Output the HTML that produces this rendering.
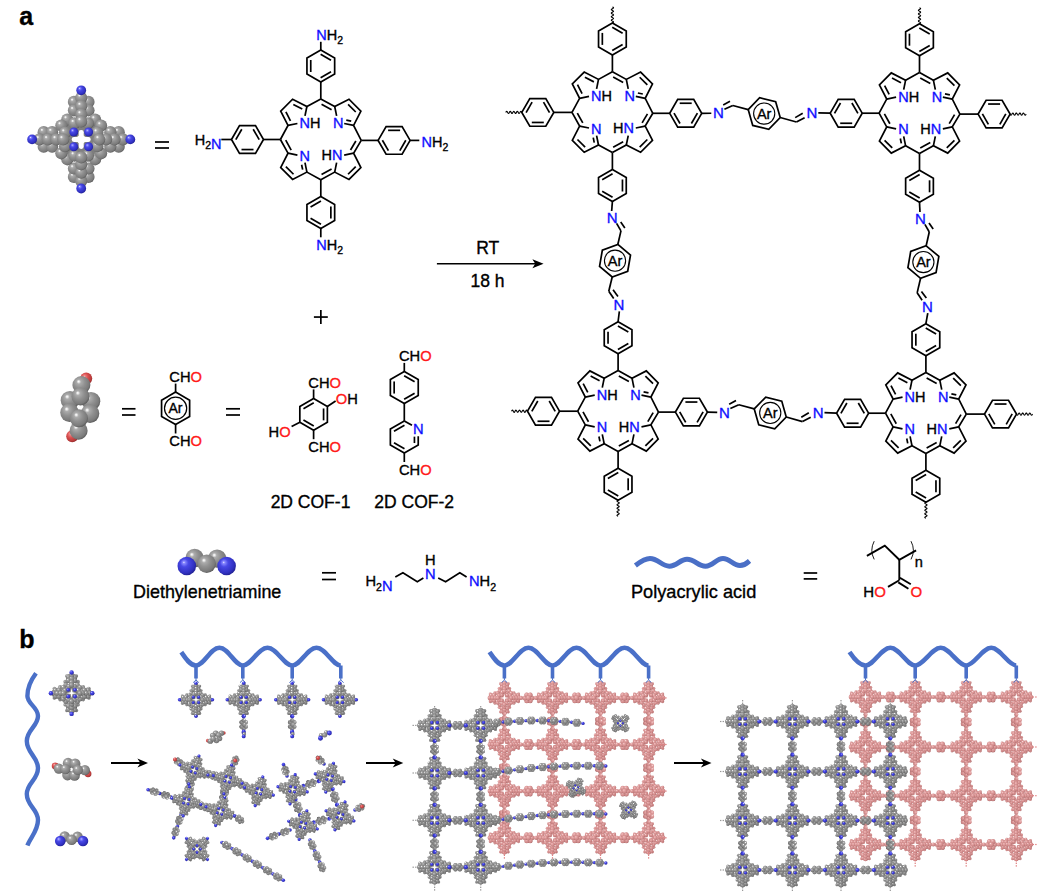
<!DOCTYPE html>
<html><head><meta charset="utf-8"><style>
html,body{margin:0;padding:0;background:#fff;width:1038px;height:892px;overflow:hidden}
svg{display:block}
text{font-family:"Liberation Sans",sans-serif}
</style></head><body>
<svg width="1038" height="892" viewBox="0 0 1038 892">
<defs><g id="nodeG"><circle cx="0" cy="0" r="6.03" fill="#858585"/><circle cx="0" cy="-12.4" r="4.69" fill="#858585"/><circle cx="12.4" cy="-0" r="4.69" fill="#858585"/><circle cx="0" cy="12.4" r="4.69" fill="#858585"/><circle cx="-12.4" cy="0" r="4.69" fill="#858585"/><circle cx="5.47" cy="-9.89" r="1.54" fill="url(#gC)"/><circle cx="9.89" cy="-5.47" r="1.54" fill="url(#gC)"/><circle cx="-5.47" cy="-9.89" r="1.54" fill="url(#gC)"/><circle cx="-9.89" cy="-5.47" r="1.54" fill="url(#gC)"/><circle cx="5.47" cy="9.89" r="1.54" fill="url(#gC)"/><circle cx="9.89" cy="5.47" r="1.54" fill="url(#gC)"/><circle cx="-5.47" cy="9.89" r="1.54" fill="url(#gC)"/><circle cx="-9.89" cy="5.47" r="1.54" fill="url(#gC)"/><circle cx="4.06" cy="-14.74" r="1.54" fill="url(#gC)"/><circle cx="4.06" cy="-10.05" r="1.54" fill="url(#gC)"/><circle cx="-4.06" cy="-10.05" r="1.54" fill="url(#gC)"/><circle cx="-4.06" cy="-14.74" r="1.54" fill="url(#gC)"/><circle cx="14.74" cy="4.06" r="1.54" fill="url(#gC)"/><circle cx="10.05" cy="4.06" r="1.54" fill="url(#gC)"/><circle cx="10.05" cy="-4.06" r="1.54" fill="url(#gC)"/><circle cx="14.74" cy="-4.06" r="1.54" fill="url(#gC)"/><circle cx="-4.06" cy="14.74" r="1.54" fill="url(#gC)"/><circle cx="-4.06" cy="10.05" r="1.54" fill="url(#gC)"/><circle cx="4.06" cy="10.05" r="1.54" fill="url(#gC)"/><circle cx="4.06" cy="14.74" r="1.54" fill="url(#gC)"/><circle cx="-14.74" cy="-4.06" r="1.54" fill="url(#gC)"/><circle cx="-10.05" cy="-4.06" r="1.54" fill="url(#gC)"/><circle cx="-10.05" cy="4.06" r="1.54" fill="url(#gC)"/><circle cx="-14.74" cy="4.06" r="1.54" fill="url(#gC)"/><circle cx="2.61" cy="13.9" r="2.14" fill="url(#gC)"/><circle cx="-13.9" cy="2.61" r="2.14" fill="url(#gC)"/><circle cx="2.61" cy="-13.9" r="2.14" fill="url(#gC)"/><circle cx="-2.61" cy="-13.9" r="2.14" fill="url(#gC)"/><circle cx="13.9" cy="2.61" r="2.14" fill="url(#gC)"/><circle cx="13.9" cy="-2.61" r="2.14" fill="url(#gC)"/><circle cx="-2.61" cy="13.9" r="2.14" fill="url(#gC)"/><circle cx="-13.9" cy="-2.61" r="2.14" fill="url(#gC)"/><circle cx="0" cy="15.41" r="2.14" fill="url(#gC)"/><circle cx="-15.41" cy="0" r="2.14" fill="url(#gC)"/><circle cx="0" cy="-15.41" r="2.14" fill="url(#gC)"/><circle cx="15.41" cy="-0" r="2.14" fill="url(#gC)"/><circle cx="-10.89" cy="2.61" r="2.14" fill="url(#gC)"/><circle cx="2.61" cy="-10.89" r="2.14" fill="url(#gC)"/><circle cx="-2.61" cy="-10.89" r="2.14" fill="url(#gC)"/><circle cx="10.89" cy="2.61" r="2.14" fill="url(#gC)"/><circle cx="10.89" cy="-2.61" r="2.14" fill="url(#gC)"/><circle cx="-2.61" cy="10.89" r="2.14" fill="url(#gC)"/><circle cx="2.61" cy="10.89" r="2.14" fill="url(#gC)"/><circle cx="-10.89" cy="-2.61" r="2.14" fill="url(#gC)"/><circle cx="0" cy="12.4" r="2.14" fill="url(#gC)"/><circle cx="-12.4" cy="0" r="2.14" fill="url(#gC)"/><circle cx="0" cy="-12.4" r="2.14" fill="url(#gC)"/><circle cx="12.4" cy="-0" r="2.14" fill="url(#gC)"/><circle cx="4.94" cy="-7.08" r="2.14" fill="url(#gC)"/><circle cx="7.08" cy="-4.94" r="2.14" fill="url(#gC)"/><circle cx="-4.94" cy="-7.08" r="2.14" fill="url(#gC)"/><circle cx="-7.08" cy="-4.94" r="2.14" fill="url(#gC)"/><circle cx="4.94" cy="7.08" r="2.14" fill="url(#gC)"/><circle cx="7.08" cy="4.94" r="2.14" fill="url(#gC)"/><circle cx="-4.94" cy="7.08" r="2.14" fill="url(#gC)"/><circle cx="-7.08" cy="4.94" r="2.14" fill="url(#gC)"/><circle cx="0" cy="9.38" r="2.14" fill="url(#gC)"/><circle cx="-9.38" cy="0" r="2.14" fill="url(#gC)"/><circle cx="0" cy="-9.38" r="2.14" fill="url(#gC)"/><circle cx="9.38" cy="-0" r="2.14" fill="url(#gC)"/><circle cx="2.41" cy="-5.75" r="2.14" fill="url(#gC)"/><circle cx="5.75" cy="-2.41" r="2.14" fill="url(#gC)"/><circle cx="-2.41" cy="-5.75" r="2.14" fill="url(#gC)"/><circle cx="-5.75" cy="-2.41" r="2.14" fill="url(#gC)"/><circle cx="2.41" cy="5.75" r="2.14" fill="url(#gC)"/><circle cx="5.75" cy="2.41" r="2.14" fill="url(#gC)"/><circle cx="-2.41" cy="5.75" r="2.14" fill="url(#gC)"/><circle cx="-5.75" cy="2.41" r="2.14" fill="url(#gC)"/><circle cx="0" cy="6.99" r="2.14" fill="url(#gC)"/><circle cx="-6.99" cy="0" r="2.14" fill="url(#gC)"/><circle cx="0" cy="-6.99" r="2.14" fill="url(#gC)"/><circle cx="6.99" cy="-0" r="2.14" fill="url(#gC)"/><polygon points="0,-4.2 0.78,-0.78 4.2,0 0.78,0.78 0,4.2 -0.78,0.78 -4.2,0 -0.78,-0.78" fill="#fff"/><circle cx="2.85" cy="-2.85" r="1.68" fill="url(#gN)"/><circle cx="-2.85" cy="-2.85" r="1.68" fill="url(#gN)"/><circle cx="2.85" cy="2.85" r="1.68" fill="url(#gN)"/><circle cx="-2.85" cy="2.85" r="1.68" fill="url(#gN)"/></g><g id="nodeP"><circle cx="0" cy="0" r="6.03" fill="#d49090"/><circle cx="0" cy="-12.4" r="4.69" fill="#d49090"/><circle cx="12.4" cy="-0" r="4.69" fill="#d49090"/><circle cx="0" cy="12.4" r="4.69" fill="#d49090"/><circle cx="-12.4" cy="0" r="4.69" fill="#d49090"/><circle cx="5.47" cy="-9.89" r="1.54" fill="url(#gP)"/><circle cx="9.89" cy="-5.47" r="1.54" fill="url(#gP)"/><circle cx="-5.47" cy="-9.89" r="1.54" fill="url(#gP)"/><circle cx="-9.89" cy="-5.47" r="1.54" fill="url(#gP)"/><circle cx="5.47" cy="9.89" r="1.54" fill="url(#gP)"/><circle cx="9.89" cy="5.47" r="1.54" fill="url(#gP)"/><circle cx="-5.47" cy="9.89" r="1.54" fill="url(#gP)"/><circle cx="-9.89" cy="5.47" r="1.54" fill="url(#gP)"/><circle cx="4.06" cy="-14.74" r="1.54" fill="url(#gP)"/><circle cx="4.06" cy="-10.05" r="1.54" fill="url(#gP)"/><circle cx="-4.06" cy="-10.05" r="1.54" fill="url(#gP)"/><circle cx="-4.06" cy="-14.74" r="1.54" fill="url(#gP)"/><circle cx="14.74" cy="4.06" r="1.54" fill="url(#gP)"/><circle cx="10.05" cy="4.06" r="1.54" fill="url(#gP)"/><circle cx="10.05" cy="-4.06" r="1.54" fill="url(#gP)"/><circle cx="14.74" cy="-4.06" r="1.54" fill="url(#gP)"/><circle cx="-4.06" cy="14.74" r="1.54" fill="url(#gP)"/><circle cx="-4.06" cy="10.05" r="1.54" fill="url(#gP)"/><circle cx="4.06" cy="10.05" r="1.54" fill="url(#gP)"/><circle cx="4.06" cy="14.74" r="1.54" fill="url(#gP)"/><circle cx="-14.74" cy="-4.06" r="1.54" fill="url(#gP)"/><circle cx="-10.05" cy="-4.06" r="1.54" fill="url(#gP)"/><circle cx="-10.05" cy="4.06" r="1.54" fill="url(#gP)"/><circle cx="-14.74" cy="4.06" r="1.54" fill="url(#gP)"/><circle cx="2.61" cy="13.9" r="2.14" fill="url(#gP)"/><circle cx="-13.9" cy="2.61" r="2.14" fill="url(#gP)"/><circle cx="2.61" cy="-13.9" r="2.14" fill="url(#gP)"/><circle cx="-2.61" cy="-13.9" r="2.14" fill="url(#gP)"/><circle cx="13.9" cy="2.61" r="2.14" fill="url(#gP)"/><circle cx="13.9" cy="-2.61" r="2.14" fill="url(#gP)"/><circle cx="-2.61" cy="13.9" r="2.14" fill="url(#gP)"/><circle cx="-13.9" cy="-2.61" r="2.14" fill="url(#gP)"/><circle cx="0" cy="15.41" r="2.14" fill="url(#gP)"/><circle cx="-15.41" cy="0" r="2.14" fill="url(#gP)"/><circle cx="0" cy="-15.41" r="2.14" fill="url(#gP)"/><circle cx="15.41" cy="-0" r="2.14" fill="url(#gP)"/><circle cx="-10.89" cy="2.61" r="2.14" fill="url(#gP)"/><circle cx="2.61" cy="-10.89" r="2.14" fill="url(#gP)"/><circle cx="-2.61" cy="-10.89" r="2.14" fill="url(#gP)"/><circle cx="10.89" cy="2.61" r="2.14" fill="url(#gP)"/><circle cx="10.89" cy="-2.61" r="2.14" fill="url(#gP)"/><circle cx="-2.61" cy="10.89" r="2.14" fill="url(#gP)"/><circle cx="2.61" cy="10.89" r="2.14" fill="url(#gP)"/><circle cx="-10.89" cy="-2.61" r="2.14" fill="url(#gP)"/><circle cx="0" cy="12.4" r="2.14" fill="url(#gP)"/><circle cx="-12.4" cy="0" r="2.14" fill="url(#gP)"/><circle cx="0" cy="-12.4" r="2.14" fill="url(#gP)"/><circle cx="12.4" cy="-0" r="2.14" fill="url(#gP)"/><circle cx="4.94" cy="-7.08" r="2.14" fill="url(#gP)"/><circle cx="7.08" cy="-4.94" r="2.14" fill="url(#gP)"/><circle cx="-4.94" cy="-7.08" r="2.14" fill="url(#gP)"/><circle cx="-7.08" cy="-4.94" r="2.14" fill="url(#gP)"/><circle cx="4.94" cy="7.08" r="2.14" fill="url(#gP)"/><circle cx="7.08" cy="4.94" r="2.14" fill="url(#gP)"/><circle cx="-4.94" cy="7.08" r="2.14" fill="url(#gP)"/><circle cx="-7.08" cy="4.94" r="2.14" fill="url(#gP)"/><circle cx="0" cy="9.38" r="2.14" fill="url(#gP)"/><circle cx="-9.38" cy="0" r="2.14" fill="url(#gP)"/><circle cx="0" cy="-9.38" r="2.14" fill="url(#gP)"/><circle cx="9.38" cy="-0" r="2.14" fill="url(#gP)"/><circle cx="2.41" cy="-5.75" r="2.14" fill="url(#gP)"/><circle cx="5.75" cy="-2.41" r="2.14" fill="url(#gP)"/><circle cx="-2.41" cy="-5.75" r="2.14" fill="url(#gP)"/><circle cx="-5.75" cy="-2.41" r="2.14" fill="url(#gP)"/><circle cx="2.41" cy="5.75" r="2.14" fill="url(#gP)"/><circle cx="5.75" cy="2.41" r="2.14" fill="url(#gP)"/><circle cx="-2.41" cy="5.75" r="2.14" fill="url(#gP)"/><circle cx="-5.75" cy="2.41" r="2.14" fill="url(#gP)"/><circle cx="0" cy="6.99" r="2.14" fill="url(#gP)"/><circle cx="-6.99" cy="0" r="2.14" fill="url(#gP)"/><circle cx="0" cy="-6.99" r="2.14" fill="url(#gP)"/><circle cx="6.99" cy="-0" r="2.14" fill="url(#gP)"/><polygon points="0,-4.2 0.78,-0.78 4.2,0 0.78,0.78 0,4.2 -0.78,0.78 -4.2,0 -0.78,-0.78" fill="#fff"/><circle cx="2.85" cy="-2.85" r="1.68" fill="url(#gP)"/><circle cx="-2.85" cy="-2.85" r="1.68" fill="url(#gP)"/><circle cx="2.85" cy="2.85" r="1.68" fill="url(#gP)"/><circle cx="-2.85" cy="2.85" r="1.68" fill="url(#gP)"/></g><g id="iconG"><circle cx="0" cy="0" r="6.03" fill="#858585"/><circle cx="0" cy="-12.4" r="4.69" fill="#858585"/><circle cx="12.4" cy="-0" r="4.69" fill="#858585"/><circle cx="0" cy="12.4" r="4.69" fill="#858585"/><circle cx="-12.4" cy="0" r="4.69" fill="#858585"/><circle cx="5.47" cy="-9.89" r="1.54" fill="url(#gC)"/><circle cx="9.89" cy="-5.47" r="1.54" fill="url(#gC)"/><circle cx="-5.47" cy="-9.89" r="1.54" fill="url(#gC)"/><circle cx="-9.89" cy="-5.47" r="1.54" fill="url(#gC)"/><circle cx="5.47" cy="9.89" r="1.54" fill="url(#gC)"/><circle cx="9.89" cy="5.47" r="1.54" fill="url(#gC)"/><circle cx="-5.47" cy="9.89" r="1.54" fill="url(#gC)"/><circle cx="-9.89" cy="5.47" r="1.54" fill="url(#gC)"/><circle cx="4.06" cy="-14.74" r="1.54" fill="url(#gC)"/><circle cx="4.06" cy="-10.05" r="1.54" fill="url(#gC)"/><circle cx="-4.06" cy="-10.05" r="1.54" fill="url(#gC)"/><circle cx="-4.06" cy="-14.74" r="1.54" fill="url(#gC)"/><circle cx="14.74" cy="4.06" r="1.54" fill="url(#gC)"/><circle cx="10.05" cy="4.06" r="1.54" fill="url(#gC)"/><circle cx="10.05" cy="-4.06" r="1.54" fill="url(#gC)"/><circle cx="14.74" cy="-4.06" r="1.54" fill="url(#gC)"/><circle cx="-4.06" cy="14.74" r="1.54" fill="url(#gC)"/><circle cx="-4.06" cy="10.05" r="1.54" fill="url(#gC)"/><circle cx="4.06" cy="10.05" r="1.54" fill="url(#gC)"/><circle cx="4.06" cy="14.74" r="1.54" fill="url(#gC)"/><circle cx="-14.74" cy="-4.06" r="1.54" fill="url(#gC)"/><circle cx="-10.05" cy="-4.06" r="1.54" fill="url(#gC)"/><circle cx="-10.05" cy="4.06" r="1.54" fill="url(#gC)"/><circle cx="-14.74" cy="4.06" r="1.54" fill="url(#gC)"/><circle cx="2.61" cy="13.9" r="2.14" fill="url(#gC)"/><circle cx="-13.9" cy="2.61" r="2.14" fill="url(#gC)"/><circle cx="2.61" cy="-13.9" r="2.14" fill="url(#gC)"/><circle cx="-2.61" cy="-13.9" r="2.14" fill="url(#gC)"/><circle cx="13.9" cy="2.61" r="2.14" fill="url(#gC)"/><circle cx="13.9" cy="-2.61" r="2.14" fill="url(#gC)"/><circle cx="-2.61" cy="13.9" r="2.14" fill="url(#gC)"/><circle cx="-13.9" cy="-2.61" r="2.14" fill="url(#gC)"/><circle cx="0" cy="15.41" r="2.14" fill="url(#gC)"/><circle cx="-15.41" cy="0" r="2.14" fill="url(#gC)"/><circle cx="0" cy="-15.41" r="2.14" fill="url(#gC)"/><circle cx="15.41" cy="-0" r="2.14" fill="url(#gC)"/><circle cx="-10.89" cy="2.61" r="2.14" fill="url(#gC)"/><circle cx="2.61" cy="-10.89" r="2.14" fill="url(#gC)"/><circle cx="-2.61" cy="-10.89" r="2.14" fill="url(#gC)"/><circle cx="10.89" cy="2.61" r="2.14" fill="url(#gC)"/><circle cx="10.89" cy="-2.61" r="2.14" fill="url(#gC)"/><circle cx="-2.61" cy="10.89" r="2.14" fill="url(#gC)"/><circle cx="2.61" cy="10.89" r="2.14" fill="url(#gC)"/><circle cx="-10.89" cy="-2.61" r="2.14" fill="url(#gC)"/><circle cx="0" cy="12.4" r="2.14" fill="url(#gC)"/><circle cx="-12.4" cy="0" r="2.14" fill="url(#gC)"/><circle cx="0" cy="-12.4" r="2.14" fill="url(#gC)"/><circle cx="12.4" cy="-0" r="2.14" fill="url(#gC)"/><circle cx="4.94" cy="-7.08" r="2.14" fill="url(#gC)"/><circle cx="7.08" cy="-4.94" r="2.14" fill="url(#gC)"/><circle cx="-4.94" cy="-7.08" r="2.14" fill="url(#gC)"/><circle cx="-7.08" cy="-4.94" r="2.14" fill="url(#gC)"/><circle cx="4.94" cy="7.08" r="2.14" fill="url(#gC)"/><circle cx="7.08" cy="4.94" r="2.14" fill="url(#gC)"/><circle cx="-4.94" cy="7.08" r="2.14" fill="url(#gC)"/><circle cx="-7.08" cy="4.94" r="2.14" fill="url(#gC)"/><circle cx="0" cy="9.38" r="2.14" fill="url(#gC)"/><circle cx="-9.38" cy="0" r="2.14" fill="url(#gC)"/><circle cx="0" cy="-9.38" r="2.14" fill="url(#gC)"/><circle cx="9.38" cy="-0" r="2.14" fill="url(#gC)"/><circle cx="2.41" cy="-5.75" r="2.14" fill="url(#gC)"/><circle cx="5.75" cy="-2.41" r="2.14" fill="url(#gC)"/><circle cx="-2.41" cy="-5.75" r="2.14" fill="url(#gC)"/><circle cx="-5.75" cy="-2.41" r="2.14" fill="url(#gC)"/><circle cx="2.41" cy="5.75" r="2.14" fill="url(#gC)"/><circle cx="5.75" cy="2.41" r="2.14" fill="url(#gC)"/><circle cx="-2.41" cy="5.75" r="2.14" fill="url(#gC)"/><circle cx="-5.75" cy="2.41" r="2.14" fill="url(#gC)"/><circle cx="0" cy="6.99" r="2.14" fill="url(#gC)"/><circle cx="-6.99" cy="0" r="2.14" fill="url(#gC)"/><circle cx="0" cy="-6.99" r="2.14" fill="url(#gC)"/><circle cx="6.99" cy="-0" r="2.14" fill="url(#gC)"/><polygon points="0,-4.2 0.78,-0.78 4.2,0 0.78,0.78 0,4.2 -0.78,0.78 -4.2,0 -0.78,-0.78" fill="#fff"/><circle cx="2.85" cy="-2.85" r="1.68" fill="url(#gN)"/><circle cx="-2.85" cy="-2.85" r="1.68" fill="url(#gN)"/><circle cx="2.85" cy="2.85" r="1.68" fill="url(#gN)"/><circle cx="-2.85" cy="2.85" r="1.68" fill="url(#gN)"/><circle cx="0" cy="-17.69" r="1.88" fill="url(#gN)"/><circle cx="17.69" cy="-0" r="1.88" fill="url(#gN)"/><circle cx="0" cy="17.69" r="1.88" fill="url(#gN)"/><circle cx="-17.69" cy="0" r="1.88" fill="url(#gN)"/></g><g id="linkG"><circle cx="2.58" cy="2.77" r="1.4" fill="url(#gC)"/><circle cx="-2.58" cy="2.77" r="1.4" fill="url(#gC)"/><circle cx="-2.58" cy="-2.77" r="1.4" fill="url(#gC)"/><circle cx="2.58" cy="-2.77" r="1.4" fill="url(#gC)"/><circle cx="4.16" cy="0" r="2.2" fill="url(#gC)"/><circle cx="2.08" cy="2.08" r="2.2" fill="url(#gC)"/><circle cx="-2.08" cy="2.08" r="2.2" fill="url(#gC)"/><circle cx="-4.16" cy="0" r="2.2" fill="url(#gC)"/><circle cx="-2.08" cy="-2.08" r="2.2" fill="url(#gC)"/><circle cx="2.08" cy="-2.08" r="2.2" fill="url(#gC)"/><circle cx="0" cy="0" r="2.2" fill="url(#gC)"/><circle cx="-8.2" cy="0" r="2.1" fill="url(#gN)"/><circle cx="8.2" cy="0" r="2.1" fill="url(#gN)"/></g><g id="ringG"><circle cx="3.75" cy="0" r="2.1" fill="url(#gC)"/><circle cx="1.88" cy="1.95" r="2.1" fill="url(#gC)"/><circle cx="-1.87" cy="1.95" r="2.1" fill="url(#gC)"/><circle cx="-3.75" cy="0" r="2.1" fill="url(#gC)"/><circle cx="-1.88" cy="-1.95" r="2.1" fill="url(#gC)"/><circle cx="1.88" cy="-1.95" r="2.1" fill="url(#gC)"/><circle cx="0" cy="0" r="2.1" fill="url(#gC)"/></g><g id="linkP"><circle cx="2.2" cy="3.64" r="1.4" fill="url(#gP)"/><circle cx="-2.2" cy="3.64" r="1.4" fill="url(#gP)"/><circle cx="-2.2" cy="-3.64" r="1.4" fill="url(#gP)"/><circle cx="2.2" cy="-3.64" r="1.4" fill="url(#gP)"/><circle cx="3.4" cy="0" r="2.5" fill="url(#gP)"/><circle cx="1.7" cy="2.94" r="2.5" fill="url(#gP)"/><circle cx="-1.7" cy="2.94" r="2.5" fill="url(#gP)"/><circle cx="-3.4" cy="0" r="2.5" fill="url(#gP)"/><circle cx="-1.7" cy="-2.94" r="2.5" fill="url(#gP)"/><circle cx="1.7" cy="-2.94" r="2.5" fill="url(#gP)"/><circle cx="0" cy="0" r="2.5" fill="url(#gP)"/><circle cx="-7.4" cy="0" r="2.1" fill="url(#gP)"/><circle cx="7.4" cy="0" r="2.1" fill="url(#gP)"/></g></defs><defs>
<radialGradient id="gC" cx="0.42" cy="0.4" r="0.62" fx="0.34" fy="0.3">
<stop offset="0" stop-color="#ffffff"/><stop offset="0.07" stop-color="#ececec"/><stop offset="0.2" stop-color="#acacac"/><stop offset="0.5" stop-color="#919191"/><stop offset="0.85" stop-color="#7a7a7a"/><stop offset="1" stop-color="#5a5a5a"/></radialGradient>
<radialGradient id="gN" cx="0.42" cy="0.4" r="0.62" fx="0.34" fy="0.3">
<stop offset="0" stop-color="#e8e8ff"/><stop offset="0.1" stop-color="#8a8aff"/><stop offset="0.35" stop-color="#4848e6"/><stop offset="0.8" stop-color="#3030c0"/><stop offset="1" stop-color="#202090"/></radialGradient>
<radialGradient id="gO" cx="0.42" cy="0.4" r="0.62" fx="0.34" fy="0.3">
<stop offset="0" stop-color="#ffe0e0"/><stop offset="0.13" stop-color="#f08080"/><stop offset="0.45" stop-color="#d85050"/><stop offset="0.85" stop-color="#b83a3a"/><stop offset="1" stop-color="#902828"/></radialGradient>
<radialGradient id="gP" cx="0.42" cy="0.4" r="0.62" fx="0.34" fy="0.3">
<stop offset="0" stop-color="#fbe4e4"/><stop offset="0.13" stop-color="#ecb4b4"/><stop offset="0.45" stop-color="#dc9999"/><stop offset="0.85" stop-color="#c88282"/><stop offset="1" stop-color="#a86666"/></radialGradient>
</defs>
<rect width="1038" height="892" fill="#fff"/>
<text x="19.2" y="24.9" font-family="Liberation Sans" font-size="25" text-anchor="start" font-weight="bold"><tspan fill="#000" stroke="#000" stroke-width="0.35">a</tspan></text>
<text x="19.2" y="648" font-family="Liberation Sans" font-size="25" text-anchor="start" font-weight="bold"><tspan fill="#000" stroke="#000" stroke-width="0.35">b</tspan></text>
<polyline points="320.8,98.9 334.7,106.5 349,99.2 360.9,111.1 353.6,125.4 361.2,140.4" fill="none" stroke="#000" stroke-width="1.7" stroke-linejoin="miter"/>
<line x1="334.7" y1="106.5" x2="336.62" y2="115.92" stroke="#000" stroke-width="1.7" stroke-linecap="butt"/>
<line x1="353.6" y1="125.4" x2="344.18" y2="123.48" stroke="#000" stroke-width="1.7" stroke-linecap="butt"/>
<polyline points="320.8,98.9 306.9,106.5 292.6,99.2 280.7,111.1 288,125.4 280.4,139.5" fill="none" stroke="#000" stroke-width="1.7" stroke-linejoin="miter"/>
<line x1="306.9" y1="106.5" x2="304.98" y2="115.92" stroke="#000" stroke-width="1.7" stroke-linecap="butt"/>
<line x1="288" y1="125.4" x2="297.42" y2="123.48" stroke="#000" stroke-width="1.7" stroke-linecap="butt"/>
<polyline points="320.8,179.7 334.7,172.1 349,179.4 360.9,167.5 353.6,153.2 361.2,140.4" fill="none" stroke="#000" stroke-width="1.7" stroke-linejoin="miter"/>
<line x1="334.7" y1="172.1" x2="336.62" y2="162.68" stroke="#000" stroke-width="1.7" stroke-linecap="butt"/>
<line x1="353.6" y1="153.2" x2="344.18" y2="155.12" stroke="#000" stroke-width="1.7" stroke-linecap="butt"/>
<polyline points="320.8,179.7 306.9,172.1 292.6,179.4 280.7,167.5 288,153.2 280.4,139.5" fill="none" stroke="#000" stroke-width="1.7" stroke-linejoin="miter"/>
<line x1="306.9" y1="172.1" x2="304.98" y2="162.68" stroke="#000" stroke-width="1.7" stroke-linecap="butt"/>
<line x1="288" y1="153.2" x2="297.42" y2="155.12" stroke="#000" stroke-width="1.7" stroke-linecap="butt"/>
<line x1="302.27" y1="108.97" x2="293.32" y2="104.39" stroke="#000" stroke-width="1.7" stroke-linecap="butt"/>
<line x1="285.89" y1="111.82" x2="290.47" y2="120.77" stroke="#000" stroke-width="1.7" stroke-linecap="butt"/>
<line x1="321.54" y1="104.21" x2="331.58" y2="109.7" stroke="#000" stroke-width="1.7" stroke-linecap="butt"/>
<line x1="348.08" y1="104.36" x2="355.74" y2="112.02" stroke="#000" stroke-width="1.7" stroke-linecap="butt"/>
<line x1="351.2" y1="121.14" x2="346.28" y2="120.13" stroke="#000" stroke-width="1.7" stroke-linecap="butt"/>
<line x1="355.87" y1="140.96" x2="350.52" y2="149.97" stroke="#000" stroke-width="1.7" stroke-linecap="butt"/>
<line x1="321.54" y1="174.39" x2="331.58" y2="168.9" stroke="#000" stroke-width="1.7" stroke-linecap="butt"/>
<line x1="348.08" y1="174.24" x2="355.74" y2="166.58" stroke="#000" stroke-width="1.7" stroke-linecap="butt"/>
<line x1="285.71" y1="140.21" x2="291.18" y2="150.06" stroke="#000" stroke-width="1.7" stroke-linecap="butt"/>
<line x1="293.52" y1="174.24" x2="285.86" y2="166.58" stroke="#000" stroke-width="1.7" stroke-linecap="butt"/>
<line x1="302.64" y1="169.7" x2="301.63" y2="164.78" stroke="#000" stroke-width="1.7" stroke-linecap="butt"/>
<text x="299.5" y="128.3" font-family="Liberation Sans" font-size="14.5" text-anchor="start" font-weight="normal"><tspan fill="#1010ff" stroke="#1010ff" stroke-width="0.35">N</tspan><tspan fill="#000" stroke="#000" stroke-width="0.35">H</tspan></text>
<text x="333" y="128.3" font-family="Liberation Sans" font-size="14.5" text-anchor="start" font-weight="normal"><tspan fill="#1010ff" stroke="#1010ff" stroke-width="0.35">N</tspan></text>
<text x="321.5" y="159.8" font-family="Liberation Sans" font-size="14.5" text-anchor="start" font-weight="normal"><tspan fill="#000" stroke="#000" stroke-width="0.35">H</tspan><tspan fill="#1010ff" stroke="#1010ff" stroke-width="0.35">N</tspan></text>
<text x="299.5" y="160.6" font-family="Liberation Sans" font-size="14.5" text-anchor="start" font-weight="normal"><tspan fill="#1010ff" stroke="#1010ff" stroke-width="0.35">N</tspan></text>
<polygon points="320.8,50 334.66,58 334.66,74 320.8,82 306.94,74 306.94,58" fill="none" stroke="#000" stroke-width="1.7" stroke-linejoin="miter"/>
<line x1="320.63" y1="54.29" x2="331.02" y2="60.29" stroke="#000" stroke-width="1.7" stroke-linecap="butt"/>
<line x1="331.02" y1="71.71" x2="320.63" y2="77.71" stroke="#000" stroke-width="1.7" stroke-linecap="butt"/>
<line x1="310.74" y1="72" x2="310.74" y2="60" stroke="#000" stroke-width="1.7" stroke-linecap="butt"/>
<line x1="320.8" y1="98.9" x2="320.8" y2="82" stroke="#000" stroke-width="1.7" stroke-linecap="butt"/>
<polygon points="410.1,140.4 402.1,154.26 386.1,154.26 378.1,140.4 386.1,126.54 402.1,126.54" fill="none" stroke="#000" stroke-width="1.7" stroke-linejoin="miter"/>
<line x1="405.81" y1="140.23" x2="399.81" y2="150.62" stroke="#000" stroke-width="1.7" stroke-linecap="butt"/>
<line x1="388.39" y1="150.62" x2="382.39" y2="140.23" stroke="#000" stroke-width="1.7" stroke-linecap="butt"/>
<line x1="388.1" y1="130.34" x2="400.1" y2="130.34" stroke="#000" stroke-width="1.7" stroke-linecap="butt"/>
<line x1="361.2" y1="140.4" x2="378.1" y2="140.4" stroke="#000" stroke-width="1.7" stroke-linecap="butt"/>
<polygon points="320.8,228.6 306.94,220.6 306.94,204.6 320.8,196.6 334.66,204.6 334.66,220.6" fill="none" stroke="#000" stroke-width="1.7" stroke-linejoin="miter"/>
<line x1="320.97" y1="224.31" x2="310.58" y2="218.31" stroke="#000" stroke-width="1.7" stroke-linecap="butt"/>
<line x1="310.58" y1="206.89" x2="320.97" y2="200.89" stroke="#000" stroke-width="1.7" stroke-linecap="butt"/>
<line x1="330.86" y1="206.6" x2="330.86" y2="218.6" stroke="#000" stroke-width="1.7" stroke-linecap="butt"/>
<line x1="320.8" y1="179.7" x2="320.8" y2="196.6" stroke="#000" stroke-width="1.7" stroke-linecap="butt"/>
<polygon points="231.5,139.5 239.5,125.64 255.5,125.64 263.5,139.5 255.5,153.36 239.5,153.36" fill="none" stroke="#000" stroke-width="1.7" stroke-linejoin="miter"/>
<line x1="235.79" y1="139.67" x2="241.79" y2="129.28" stroke="#000" stroke-width="1.7" stroke-linecap="butt"/>
<line x1="253.21" y1="129.28" x2="259.21" y2="139.67" stroke="#000" stroke-width="1.7" stroke-linecap="butt"/>
<line x1="253.5" y1="149.56" x2="241.5" y2="149.56" stroke="#000" stroke-width="1.7" stroke-linecap="butt"/>
<line x1="280.4" y1="139.5" x2="263.5" y2="139.5" stroke="#000" stroke-width="1.7" stroke-linecap="butt"/>
<line x1="320.8" y1="50" x2="320.8" y2="41.8" stroke="#000" stroke-width="1.7" stroke-linecap="butt"/>
<text x="316.2" y="39.6" font-family="Liberation Sans" font-size="14.5" text-anchor="start" font-weight="normal"><tspan fill="#1010ff" stroke="#1010ff" stroke-width="0.35">N</tspan><tspan fill="#000" stroke="#000" stroke-width="0.35">H</tspan><tspan fill="#000" stroke="#000" stroke-width="0.35" font-size="10.44" dy="4.06">2</tspan><tspan dy="-4.06"></tspan></text>
<line x1="320.8" y1="228.6" x2="320.8" y2="237.3" stroke="#000" stroke-width="1.7" stroke-linecap="butt"/>
<text x="316.2" y="250.3" font-family="Liberation Sans" font-size="14.5" text-anchor="start" font-weight="normal"><tspan fill="#1010ff" stroke="#1010ff" stroke-width="0.35">N</tspan><tspan fill="#000" stroke="#000" stroke-width="0.35">H</tspan><tspan fill="#000" stroke="#000" stroke-width="0.35" font-size="10.44" dy="4.06">2</tspan><tspan dy="-4.06"></tspan></text>
<line x1="410.1" y1="140.4" x2="419.3" y2="140.4" stroke="#000" stroke-width="1.7" stroke-linecap="butt"/>
<text x="421.5" y="147.1" font-family="Liberation Sans" font-size="14.5" text-anchor="start" font-weight="normal"><tspan fill="#1010ff" stroke="#1010ff" stroke-width="0.35">N</tspan><tspan fill="#000" stroke="#000" stroke-width="0.35">H</tspan><tspan fill="#000" stroke="#000" stroke-width="0.35" font-size="10.44" dy="4.06">2</tspan><tspan dy="-4.06"></tspan></text>
<line x1="231.5" y1="139.5" x2="221.3" y2="139.5" stroke="#000" stroke-width="1.7" stroke-linecap="butt"/>
<text x="221.6" y="145.2" font-family="Liberation Sans" font-size="14.5" text-anchor="end" font-weight="normal"><tspan fill="#000" stroke="#000" stroke-width="0.35">H</tspan><tspan fill="#000" stroke="#000" stroke-width="0.35" font-size="10.44" dy="4.06">2</tspan><tspan dy="-4.06"></tspan><tspan fill="#1010ff" stroke="#1010ff" stroke-width="0.35">N</tspan></text>
<rect x="155" y="141.15" width="14" height="1.7" fill="#000"/>
<rect x="155" y="147.15" width="14" height="1.7" fill="#000"/>
<rect x="122" y="407.95" width="13.5" height="1.7" fill="#000"/>
<rect x="122" y="414.15" width="13.5" height="1.7" fill="#000"/>
<rect x="226" y="407.95" width="14" height="1.7" fill="#000"/>
<rect x="226" y="414.15" width="14" height="1.7" fill="#000"/>
<rect x="322" y="571.95" width="14" height="1.7" fill="#000"/>
<rect x="322" y="578.65" width="14" height="1.7" fill="#000"/>
<rect x="803.7" y="572.15" width="13.5" height="1.7" fill="#000"/>
<rect x="803.7" y="578.05" width="13.5" height="1.7" fill="#000"/>
<rect x="313.9" y="316.2" width="13.9" height="1.7" fill="#000"/>
<rect x="320" y="310" width="1.7" height="14" fill="#000"/>
<line x1="436.9" y1="263.7" x2="538" y2="263.7" stroke="#000" stroke-width="1.6" stroke-linecap="butt"/>
<path d="M543.6,263.7 L532.4,259.2 L535.2,263.7 L532.4,268.2 Z" fill="#000"/>
<text x="487.8" y="254.2" font-family="Liberation Sans" font-size="17.5" text-anchor="middle" font-weight="normal"><tspan fill="#000" stroke="#000" stroke-width="0.35">RT</tspan></text>
<text x="487.5" y="286.9" font-family="Liberation Sans" font-size="17.5" text-anchor="middle" font-weight="normal"><tspan fill="#000" stroke="#000" stroke-width="0.35">18 h</tspan></text>
<polyline points="612.4,71.8 626.3,79.4 640.6,72.1 652.5,84 645.2,98.3 652.8,113.3" fill="none" stroke="#000" stroke-width="1.7" stroke-linejoin="miter"/>
<line x1="626.3" y1="79.4" x2="628.22" y2="88.82" stroke="#000" stroke-width="1.7" stroke-linecap="butt"/>
<line x1="645.2" y1="98.3" x2="635.78" y2="96.38" stroke="#000" stroke-width="1.7" stroke-linecap="butt"/>
<polyline points="612.4,71.8 598.5,79.4 584.2,72.1 572.3,84 579.6,98.3 572,112.4" fill="none" stroke="#000" stroke-width="1.7" stroke-linejoin="miter"/>
<line x1="598.5" y1="79.4" x2="596.58" y2="88.82" stroke="#000" stroke-width="1.7" stroke-linecap="butt"/>
<line x1="579.6" y1="98.3" x2="589.02" y2="96.38" stroke="#000" stroke-width="1.7" stroke-linecap="butt"/>
<polyline points="612.4,152.6 626.3,145 640.6,152.3 652.5,140.4 645.2,126.1 652.8,113.3" fill="none" stroke="#000" stroke-width="1.7" stroke-linejoin="miter"/>
<line x1="626.3" y1="145" x2="628.22" y2="135.58" stroke="#000" stroke-width="1.7" stroke-linecap="butt"/>
<line x1="645.2" y1="126.1" x2="635.78" y2="128.02" stroke="#000" stroke-width="1.7" stroke-linecap="butt"/>
<polyline points="612.4,152.6 598.5,145 584.2,152.3 572.3,140.4 579.6,126.1 572,112.4" fill="none" stroke="#000" stroke-width="1.7" stroke-linejoin="miter"/>
<line x1="598.5" y1="145" x2="596.58" y2="135.58" stroke="#000" stroke-width="1.7" stroke-linecap="butt"/>
<line x1="579.6" y1="126.1" x2="589.02" y2="128.02" stroke="#000" stroke-width="1.7" stroke-linecap="butt"/>
<line x1="593.87" y1="81.87" x2="584.92" y2="77.29" stroke="#000" stroke-width="1.7" stroke-linecap="butt"/>
<line x1="577.49" y1="84.72" x2="582.07" y2="93.67" stroke="#000" stroke-width="1.7" stroke-linecap="butt"/>
<line x1="613.14" y1="77.11" x2="623.18" y2="82.6" stroke="#000" stroke-width="1.7" stroke-linecap="butt"/>
<line x1="639.68" y1="77.26" x2="647.34" y2="84.92" stroke="#000" stroke-width="1.7" stroke-linecap="butt"/>
<line x1="642.8" y1="94.04" x2="637.88" y2="93.03" stroke="#000" stroke-width="1.7" stroke-linecap="butt"/>
<line x1="647.47" y1="113.86" x2="642.12" y2="122.87" stroke="#000" stroke-width="1.7" stroke-linecap="butt"/>
<line x1="613.14" y1="147.29" x2="623.18" y2="141.8" stroke="#000" stroke-width="1.7" stroke-linecap="butt"/>
<line x1="639.68" y1="147.14" x2="647.34" y2="139.48" stroke="#000" stroke-width="1.7" stroke-linecap="butt"/>
<line x1="577.31" y1="113.11" x2="582.78" y2="122.96" stroke="#000" stroke-width="1.7" stroke-linecap="butt"/>
<line x1="585.12" y1="147.14" x2="577.46" y2="139.48" stroke="#000" stroke-width="1.7" stroke-linecap="butt"/>
<line x1="594.24" y1="142.6" x2="593.23" y2="137.68" stroke="#000" stroke-width="1.7" stroke-linecap="butt"/>
<text x="591.1" y="101.2" font-family="Liberation Sans" font-size="14.5" text-anchor="start" font-weight="normal"><tspan fill="#1010ff" stroke="#1010ff" stroke-width="0.35">N</tspan><tspan fill="#000" stroke="#000" stroke-width="0.35">H</tspan></text>
<text x="624.6" y="101.2" font-family="Liberation Sans" font-size="14.5" text-anchor="start" font-weight="normal"><tspan fill="#1010ff" stroke="#1010ff" stroke-width="0.35">N</tspan></text>
<text x="613.1" y="132.7" font-family="Liberation Sans" font-size="14.5" text-anchor="start" font-weight="normal"><tspan fill="#000" stroke="#000" stroke-width="0.35">H</tspan><tspan fill="#1010ff" stroke="#1010ff" stroke-width="0.35">N</tspan></text>
<text x="591.1" y="133.5" font-family="Liberation Sans" font-size="14.5" text-anchor="start" font-weight="normal"><tspan fill="#1010ff" stroke="#1010ff" stroke-width="0.35">N</tspan></text>
<polygon points="612.4,22.9 626.26,30.9 626.26,46.9 612.4,54.9 598.54,46.9 598.54,30.9" fill="none" stroke="#000" stroke-width="1.7" stroke-linejoin="miter"/>
<line x1="612.23" y1="27.19" x2="622.62" y2="33.19" stroke="#000" stroke-width="1.7" stroke-linecap="butt"/>
<line x1="622.62" y1="44.61" x2="612.23" y2="50.61" stroke="#000" stroke-width="1.7" stroke-linecap="butt"/>
<line x1="602.34" y1="44.9" x2="602.34" y2="32.9" stroke="#000" stroke-width="1.7" stroke-linecap="butt"/>
<line x1="612.4" y1="71.8" x2="612.4" y2="54.9" stroke="#000" stroke-width="1.7" stroke-linecap="butt"/>
<path d="M612.4,22.9 L613.11,22.5 L613.49,22.1 L613.34,21.7 L612.74,21.3 L611.98,20.9 L611.42,20.5 L611.33,20.1 L611.75,19.7 L612.49,19.3 L613.18,18.9 L613.5,18.5 L613.29,18.1 L612.66,17.7 L611.9,17.3 L611.38,16.9 L611.35,16.5 L611.83,16.1 L612.57,15.7 L613.24,15.3 L613.5,14.9 L613.24,14.5 L612.57,14.1 L611.83,13.7 L611.35,13.3 L611.38,12.9 L611.9,12.5 L612.66,12.1 L613.29,11.7 L613.5,11.3 L613.18,10.9 L612.49,10.5 L611.75,10.1 L611.33,9.7 L611.42,9.3 L611.98,8.9 L612.74,8.5 L613.34,8.1 L613.49,7.7 L613.11,7.3 L612.4,6.9" fill="none" stroke="#000" stroke-width="1.1"/>
<polygon points="521.8,112.4 529.8,98.54 545.8,98.54 553.8,112.4 545.8,126.26 529.8,126.26" fill="none" stroke="#000" stroke-width="1.7" stroke-linejoin="miter"/>
<line x1="526.09" y1="112.57" x2="532.09" y2="102.18" stroke="#000" stroke-width="1.7" stroke-linecap="butt"/>
<line x1="543.51" y1="102.18" x2="549.51" y2="112.57" stroke="#000" stroke-width="1.7" stroke-linecap="butt"/>
<line x1="543.8" y1="122.46" x2="531.8" y2="122.46" stroke="#000" stroke-width="1.7" stroke-linecap="butt"/>
<line x1="572" y1="112.4" x2="553.8" y2="112.4" stroke="#000" stroke-width="1.7" stroke-linecap="butt"/>
<path d="M521.8,112.4 L521.4,111.69 L521,111.31 L520.6,111.46 L520.2,112.06 L519.8,112.82 L519.4,113.38 L519,113.47 L518.6,113.05 L518.2,112.31 L517.8,111.62 L517.4,111.3 L517,111.51 L516.6,112.14 L516.2,112.9 L515.8,113.42 L515.4,113.45 L515,112.97 L514.6,112.23 L514.2,111.56 L513.8,111.3 L513.4,111.56 L513,112.23 L512.6,112.97 L512.2,113.45 L511.8,113.42 L511.4,112.9 L511,112.14 L510.6,111.51 L510.2,111.3 L509.8,111.62 L509.4,112.31 L509,113.05 L508.6,113.47 L508.2,113.38 L507.8,112.82 L507.4,112.06 L507,111.46 L506.6,111.31 L506.2,111.69 L505.8,112.4" fill="none" stroke="#000" stroke-width="1.1"/>
<polygon points="701.7,113.3 693.7,127.16 677.7,127.16 669.7,113.3 677.7,99.44 693.7,99.44" fill="none" stroke="#000" stroke-width="1.7" stroke-linejoin="miter"/>
<line x1="697.41" y1="113.13" x2="691.41" y2="123.52" stroke="#000" stroke-width="1.7" stroke-linecap="butt"/>
<line x1="679.99" y1="123.52" x2="673.99" y2="113.13" stroke="#000" stroke-width="1.7" stroke-linecap="butt"/>
<line x1="679.7" y1="103.24" x2="691.7" y2="103.24" stroke="#000" stroke-width="1.7" stroke-linecap="butt"/>
<line x1="652.8" y1="113.3" x2="669.7" y2="113.3" stroke="#000" stroke-width="1.7" stroke-linecap="butt"/>
<polygon points="612.4,201.5 598.54,193.5 598.54,177.5 612.4,169.5 626.26,177.5 626.26,193.5" fill="none" stroke="#000" stroke-width="1.7" stroke-linejoin="miter"/>
<line x1="612.57" y1="197.21" x2="602.18" y2="191.21" stroke="#000" stroke-width="1.7" stroke-linecap="butt"/>
<line x1="602.18" y1="179.79" x2="612.57" y2="173.79" stroke="#000" stroke-width="1.7" stroke-linecap="butt"/>
<line x1="622.46" y1="179.5" x2="622.46" y2="191.5" stroke="#000" stroke-width="1.7" stroke-linecap="butt"/>
<line x1="612.4" y1="152.6" x2="612.4" y2="169.5" stroke="#000" stroke-width="1.7" stroke-linecap="butt"/>
<polyline points="919.5,72.6 933.4,80.2 947.7,72.9 959.6,84.8 952.3,99.1 959.9,114.1" fill="none" stroke="#000" stroke-width="1.7" stroke-linejoin="miter"/>
<line x1="933.4" y1="80.2" x2="935.32" y2="89.62" stroke="#000" stroke-width="1.7" stroke-linecap="butt"/>
<line x1="952.3" y1="99.1" x2="942.88" y2="97.18" stroke="#000" stroke-width="1.7" stroke-linecap="butt"/>
<polyline points="919.5,72.6 905.6,80.2 891.3,72.9 879.4,84.8 886.7,99.1 879.1,113.2" fill="none" stroke="#000" stroke-width="1.7" stroke-linejoin="miter"/>
<line x1="905.6" y1="80.2" x2="903.68" y2="89.62" stroke="#000" stroke-width="1.7" stroke-linecap="butt"/>
<line x1="886.7" y1="99.1" x2="896.12" y2="97.18" stroke="#000" stroke-width="1.7" stroke-linecap="butt"/>
<polyline points="919.5,153.4 933.4,145.8 947.7,153.1 959.6,141.2 952.3,126.9 959.9,114.1" fill="none" stroke="#000" stroke-width="1.7" stroke-linejoin="miter"/>
<line x1="933.4" y1="145.8" x2="935.32" y2="136.38" stroke="#000" stroke-width="1.7" stroke-linecap="butt"/>
<line x1="952.3" y1="126.9" x2="942.88" y2="128.82" stroke="#000" stroke-width="1.7" stroke-linecap="butt"/>
<polyline points="919.5,153.4 905.6,145.8 891.3,153.1 879.4,141.2 886.7,126.9 879.1,113.2" fill="none" stroke="#000" stroke-width="1.7" stroke-linejoin="miter"/>
<line x1="905.6" y1="145.8" x2="903.68" y2="136.38" stroke="#000" stroke-width="1.7" stroke-linecap="butt"/>
<line x1="886.7" y1="126.9" x2="896.12" y2="128.82" stroke="#000" stroke-width="1.7" stroke-linecap="butt"/>
<line x1="900.97" y1="82.67" x2="892.02" y2="78.09" stroke="#000" stroke-width="1.7" stroke-linecap="butt"/>
<line x1="884.59" y1="85.52" x2="889.17" y2="94.47" stroke="#000" stroke-width="1.7" stroke-linecap="butt"/>
<line x1="920.24" y1="77.91" x2="930.28" y2="83.4" stroke="#000" stroke-width="1.7" stroke-linecap="butt"/>
<line x1="946.78" y1="78.06" x2="954.44" y2="85.72" stroke="#000" stroke-width="1.7" stroke-linecap="butt"/>
<line x1="949.9" y1="94.84" x2="944.98" y2="93.83" stroke="#000" stroke-width="1.7" stroke-linecap="butt"/>
<line x1="954.57" y1="114.66" x2="949.22" y2="123.67" stroke="#000" stroke-width="1.7" stroke-linecap="butt"/>
<line x1="920.24" y1="148.09" x2="930.28" y2="142.6" stroke="#000" stroke-width="1.7" stroke-linecap="butt"/>
<line x1="946.78" y1="147.94" x2="954.44" y2="140.28" stroke="#000" stroke-width="1.7" stroke-linecap="butt"/>
<line x1="884.41" y1="113.91" x2="889.88" y2="123.76" stroke="#000" stroke-width="1.7" stroke-linecap="butt"/>
<line x1="892.22" y1="147.94" x2="884.56" y2="140.28" stroke="#000" stroke-width="1.7" stroke-linecap="butt"/>
<line x1="901.34" y1="143.4" x2="900.33" y2="138.48" stroke="#000" stroke-width="1.7" stroke-linecap="butt"/>
<text x="898.2" y="102" font-family="Liberation Sans" font-size="14.5" text-anchor="start" font-weight="normal"><tspan fill="#1010ff" stroke="#1010ff" stroke-width="0.35">N</tspan><tspan fill="#000" stroke="#000" stroke-width="0.35">H</tspan></text>
<text x="931.7" y="102" font-family="Liberation Sans" font-size="14.5" text-anchor="start" font-weight="normal"><tspan fill="#1010ff" stroke="#1010ff" stroke-width="0.35">N</tspan></text>
<text x="920.2" y="133.5" font-family="Liberation Sans" font-size="14.5" text-anchor="start" font-weight="normal"><tspan fill="#000" stroke="#000" stroke-width="0.35">H</tspan><tspan fill="#1010ff" stroke="#1010ff" stroke-width="0.35">N</tspan></text>
<text x="898.2" y="134.3" font-family="Liberation Sans" font-size="14.5" text-anchor="start" font-weight="normal"><tspan fill="#1010ff" stroke="#1010ff" stroke-width="0.35">N</tspan></text>
<polygon points="919.5,23.7 933.36,31.7 933.36,47.7 919.5,55.7 905.64,47.7 905.64,31.7" fill="none" stroke="#000" stroke-width="1.7" stroke-linejoin="miter"/>
<line x1="919.33" y1="27.99" x2="929.72" y2="33.99" stroke="#000" stroke-width="1.7" stroke-linecap="butt"/>
<line x1="929.72" y1="45.41" x2="919.33" y2="51.41" stroke="#000" stroke-width="1.7" stroke-linecap="butt"/>
<line x1="909.44" y1="45.7" x2="909.44" y2="33.7" stroke="#000" stroke-width="1.7" stroke-linecap="butt"/>
<line x1="919.5" y1="72.6" x2="919.5" y2="55.7" stroke="#000" stroke-width="1.7" stroke-linecap="butt"/>
<path d="M919.5,23.7 L920.21,23.3 L920.59,22.9 L920.44,22.5 L919.84,22.1 L919.08,21.7 L918.52,21.3 L918.43,20.9 L918.85,20.5 L919.59,20.1 L920.28,19.7 L920.6,19.3 L920.39,18.9 L919.76,18.5 L919,18.1 L918.48,17.7 L918.45,17.3 L918.93,16.9 L919.67,16.5 L920.34,16.1 L920.6,15.7 L920.34,15.3 L919.67,14.9 L918.93,14.5 L918.45,14.1 L918.48,13.7 L919,13.3 L919.76,12.9 L920.39,12.5 L920.6,12.1 L920.28,11.7 L919.59,11.3 L918.85,10.9 L918.43,10.5 L918.52,10.1 L919.08,9.7 L919.84,9.3 L920.44,8.9 L920.59,8.5 L920.21,8.1 L919.5,7.7" fill="none" stroke="#000" stroke-width="1.1"/>
<polygon points="1010.1,114.1 1002.1,127.96 986.1,127.96 978.1,114.1 986.1,100.24 1002.1,100.24" fill="none" stroke="#000" stroke-width="1.7" stroke-linejoin="miter"/>
<line x1="1005.81" y1="113.93" x2="999.81" y2="124.32" stroke="#000" stroke-width="1.7" stroke-linecap="butt"/>
<line x1="988.39" y1="124.32" x2="982.39" y2="113.93" stroke="#000" stroke-width="1.7" stroke-linecap="butt"/>
<line x1="988.1" y1="104.04" x2="1000.1" y2="104.04" stroke="#000" stroke-width="1.7" stroke-linecap="butt"/>
<line x1="959.9" y1="114.1" x2="978.1" y2="114.1" stroke="#000" stroke-width="1.7" stroke-linecap="butt"/>
<path d="M1010.1,114.1 L1010.5,114.81 L1010.9,115.19 L1011.3,115.04 L1011.7,114.44 L1012.1,113.68 L1012.5,113.12 L1012.9,113.03 L1013.3,113.45 L1013.7,114.19 L1014.1,114.88 L1014.5,115.2 L1014.9,114.99 L1015.3,114.36 L1015.7,113.6 L1016.1,113.08 L1016.5,113.05 L1016.9,113.53 L1017.3,114.27 L1017.7,114.94 L1018.1,115.2 L1018.5,114.94 L1018.9,114.27 L1019.3,113.53 L1019.7,113.05 L1020.1,113.08 L1020.5,113.6 L1020.9,114.36 L1021.3,114.99 L1021.7,115.2 L1022.1,114.88 L1022.5,114.19 L1022.9,113.45 L1023.3,113.03 L1023.7,113.12 L1024.1,113.68 L1024.5,114.44 L1024.9,115.04 L1025.3,115.19 L1025.7,114.81 L1026.1,114.1" fill="none" stroke="#000" stroke-width="1.1"/>
<polygon points="830.2,113.2 838.2,99.34 854.2,99.34 862.2,113.2 854.2,127.06 838.2,127.06" fill="none" stroke="#000" stroke-width="1.7" stroke-linejoin="miter"/>
<line x1="834.49" y1="113.37" x2="840.49" y2="102.98" stroke="#000" stroke-width="1.7" stroke-linecap="butt"/>
<line x1="851.91" y1="102.98" x2="857.91" y2="113.37" stroke="#000" stroke-width="1.7" stroke-linecap="butt"/>
<line x1="852.2" y1="123.26" x2="840.2" y2="123.26" stroke="#000" stroke-width="1.7" stroke-linecap="butt"/>
<line x1="879.1" y1="113.2" x2="862.2" y2="113.2" stroke="#000" stroke-width="1.7" stroke-linecap="butt"/>
<polygon points="919.5,202.3 905.64,194.3 905.64,178.3 919.5,170.3 933.36,178.3 933.36,194.3" fill="none" stroke="#000" stroke-width="1.7" stroke-linejoin="miter"/>
<line x1="919.67" y1="198.01" x2="909.28" y2="192.01" stroke="#000" stroke-width="1.7" stroke-linecap="butt"/>
<line x1="909.28" y1="180.59" x2="919.67" y2="174.59" stroke="#000" stroke-width="1.7" stroke-linecap="butt"/>
<line x1="929.56" y1="180.3" x2="929.56" y2="192.3" stroke="#000" stroke-width="1.7" stroke-linecap="butt"/>
<line x1="919.5" y1="153.4" x2="919.5" y2="170.3" stroke="#000" stroke-width="1.7" stroke-linecap="butt"/>
<polyline points="618.1,370.6 632,378.2 646.3,370.9 658.2,382.8 650.9,397.1 658.5,412.1" fill="none" stroke="#000" stroke-width="1.7" stroke-linejoin="miter"/>
<line x1="632" y1="378.2" x2="633.92" y2="387.62" stroke="#000" stroke-width="1.7" stroke-linecap="butt"/>
<line x1="650.9" y1="397.1" x2="641.48" y2="395.18" stroke="#000" stroke-width="1.7" stroke-linecap="butt"/>
<polyline points="618.1,370.6 604.2,378.2 589.9,370.9 578,382.8 585.3,397.1 577.7,411.2" fill="none" stroke="#000" stroke-width="1.7" stroke-linejoin="miter"/>
<line x1="604.2" y1="378.2" x2="602.28" y2="387.62" stroke="#000" stroke-width="1.7" stroke-linecap="butt"/>
<line x1="585.3" y1="397.1" x2="594.72" y2="395.18" stroke="#000" stroke-width="1.7" stroke-linecap="butt"/>
<polyline points="618.1,451.4 632,443.8 646.3,451.1 658.2,439.2 650.9,424.9 658.5,412.1" fill="none" stroke="#000" stroke-width="1.7" stroke-linejoin="miter"/>
<line x1="632" y1="443.8" x2="633.92" y2="434.38" stroke="#000" stroke-width="1.7" stroke-linecap="butt"/>
<line x1="650.9" y1="424.9" x2="641.48" y2="426.82" stroke="#000" stroke-width="1.7" stroke-linecap="butt"/>
<polyline points="618.1,451.4 604.2,443.8 589.9,451.1 578,439.2 585.3,424.9 577.7,411.2" fill="none" stroke="#000" stroke-width="1.7" stroke-linejoin="miter"/>
<line x1="604.2" y1="443.8" x2="602.28" y2="434.38" stroke="#000" stroke-width="1.7" stroke-linecap="butt"/>
<line x1="585.3" y1="424.9" x2="594.72" y2="426.82" stroke="#000" stroke-width="1.7" stroke-linecap="butt"/>
<line x1="599.57" y1="380.67" x2="590.62" y2="376.09" stroke="#000" stroke-width="1.7" stroke-linecap="butt"/>
<line x1="583.19" y1="383.52" x2="587.77" y2="392.47" stroke="#000" stroke-width="1.7" stroke-linecap="butt"/>
<line x1="618.84" y1="375.91" x2="628.88" y2="381.4" stroke="#000" stroke-width="1.7" stroke-linecap="butt"/>
<line x1="645.38" y1="376.06" x2="653.04" y2="383.72" stroke="#000" stroke-width="1.7" stroke-linecap="butt"/>
<line x1="648.5" y1="392.84" x2="643.58" y2="391.83" stroke="#000" stroke-width="1.7" stroke-linecap="butt"/>
<line x1="653.17" y1="412.66" x2="647.82" y2="421.67" stroke="#000" stroke-width="1.7" stroke-linecap="butt"/>
<line x1="618.84" y1="446.09" x2="628.88" y2="440.6" stroke="#000" stroke-width="1.7" stroke-linecap="butt"/>
<line x1="645.38" y1="445.94" x2="653.04" y2="438.28" stroke="#000" stroke-width="1.7" stroke-linecap="butt"/>
<line x1="583.01" y1="411.91" x2="588.48" y2="421.76" stroke="#000" stroke-width="1.7" stroke-linecap="butt"/>
<line x1="590.82" y1="445.94" x2="583.16" y2="438.28" stroke="#000" stroke-width="1.7" stroke-linecap="butt"/>
<line x1="599.94" y1="441.4" x2="598.93" y2="436.48" stroke="#000" stroke-width="1.7" stroke-linecap="butt"/>
<text x="596.8" y="400" font-family="Liberation Sans" font-size="14.5" text-anchor="start" font-weight="normal"><tspan fill="#1010ff" stroke="#1010ff" stroke-width="0.35">N</tspan><tspan fill="#000" stroke="#000" stroke-width="0.35">H</tspan></text>
<text x="630.3" y="400" font-family="Liberation Sans" font-size="14.5" text-anchor="start" font-weight="normal"><tspan fill="#1010ff" stroke="#1010ff" stroke-width="0.35">N</tspan></text>
<text x="618.8" y="431.5" font-family="Liberation Sans" font-size="14.5" text-anchor="start" font-weight="normal"><tspan fill="#000" stroke="#000" stroke-width="0.35">H</tspan><tspan fill="#1010ff" stroke="#1010ff" stroke-width="0.35">N</tspan></text>
<text x="596.8" y="432.3" font-family="Liberation Sans" font-size="14.5" text-anchor="start" font-weight="normal"><tspan fill="#1010ff" stroke="#1010ff" stroke-width="0.35">N</tspan></text>
<polygon points="618.1,500.3 604.24,492.3 604.24,476.3 618.1,468.3 631.96,476.3 631.96,492.3" fill="none" stroke="#000" stroke-width="1.7" stroke-linejoin="miter"/>
<line x1="618.27" y1="496.01" x2="607.88" y2="490.01" stroke="#000" stroke-width="1.7" stroke-linecap="butt"/>
<line x1="607.88" y1="478.59" x2="618.27" y2="472.59" stroke="#000" stroke-width="1.7" stroke-linecap="butt"/>
<line x1="628.16" y1="478.3" x2="628.16" y2="490.3" stroke="#000" stroke-width="1.7" stroke-linecap="butt"/>
<line x1="618.1" y1="451.4" x2="618.1" y2="468.3" stroke="#000" stroke-width="1.7" stroke-linecap="butt"/>
<path d="M618.1,500.3 L617.39,500.7 L617.01,501.1 L617.16,501.5 L617.76,501.9 L618.52,502.3 L619.08,502.7 L619.17,503.1 L618.75,503.5 L618.01,503.9 L617.32,504.3 L617,504.7 L617.21,505.1 L617.84,505.5 L618.6,505.9 L619.12,506.3 L619.15,506.7 L618.67,507.1 L617.93,507.5 L617.26,507.9 L617,508.3 L617.26,508.7 L617.93,509.1 L618.67,509.5 L619.15,509.9 L619.12,510.3 L618.6,510.7 L617.84,511.1 L617.21,511.5 L617,511.9 L617.32,512.3 L618.01,512.7 L618.75,513.1 L619.17,513.5 L619.08,513.9 L618.52,514.3 L617.76,514.7 L617.16,515.1 L617.01,515.5 L617.39,515.9 L618.1,516.3" fill="none" stroke="#000" stroke-width="1.1"/>
<polygon points="527.5,411.2 535.5,397.34 551.5,397.34 559.5,411.2 551.5,425.06 535.5,425.06" fill="none" stroke="#000" stroke-width="1.7" stroke-linejoin="miter"/>
<line x1="531.79" y1="411.37" x2="537.79" y2="400.98" stroke="#000" stroke-width="1.7" stroke-linecap="butt"/>
<line x1="549.21" y1="400.98" x2="555.21" y2="411.37" stroke="#000" stroke-width="1.7" stroke-linecap="butt"/>
<line x1="549.5" y1="421.26" x2="537.5" y2="421.26" stroke="#000" stroke-width="1.7" stroke-linecap="butt"/>
<line x1="577.7" y1="411.2" x2="559.5" y2="411.2" stroke="#000" stroke-width="1.7" stroke-linecap="butt"/>
<path d="M527.5,411.2 L527.1,410.49 L526.7,410.11 L526.3,410.26 L525.9,410.86 L525.5,411.62 L525.1,412.18 L524.7,412.27 L524.3,411.85 L523.9,411.11 L523.5,410.42 L523.1,410.1 L522.7,410.31 L522.3,410.94 L521.9,411.7 L521.5,412.22 L521.1,412.25 L520.7,411.77 L520.3,411.03 L519.9,410.36 L519.5,410.1 L519.1,410.36 L518.7,411.03 L518.3,411.77 L517.9,412.25 L517.5,412.22 L517.1,411.7 L516.7,410.94 L516.3,410.31 L515.9,410.1 L515.5,410.42 L515.1,411.11 L514.7,411.85 L514.3,412.27 L513.9,412.18 L513.5,411.62 L513.1,410.86 L512.7,410.26 L512.3,410.11 L511.9,410.49 L511.5,411.2" fill="none" stroke="#000" stroke-width="1.1"/>
<polygon points="707.4,412.1 699.4,425.96 683.4,425.96 675.4,412.1 683.4,398.24 699.4,398.24" fill="none" stroke="#000" stroke-width="1.7" stroke-linejoin="miter"/>
<line x1="703.11" y1="411.93" x2="697.11" y2="422.32" stroke="#000" stroke-width="1.7" stroke-linecap="butt"/>
<line x1="685.69" y1="422.32" x2="679.69" y2="411.93" stroke="#000" stroke-width="1.7" stroke-linecap="butt"/>
<line x1="685.4" y1="402.04" x2="697.4" y2="402.04" stroke="#000" stroke-width="1.7" stroke-linecap="butt"/>
<line x1="658.5" y1="412.1" x2="675.4" y2="412.1" stroke="#000" stroke-width="1.7" stroke-linecap="butt"/>
<polygon points="618.1,321.7 631.96,329.7 631.96,345.7 618.1,353.7 604.24,345.7 604.24,329.7" fill="none" stroke="#000" stroke-width="1.7" stroke-linejoin="miter"/>
<line x1="617.93" y1="325.99" x2="628.32" y2="331.99" stroke="#000" stroke-width="1.7" stroke-linecap="butt"/>
<line x1="628.32" y1="343.41" x2="617.93" y2="349.41" stroke="#000" stroke-width="1.7" stroke-linecap="butt"/>
<line x1="608.04" y1="343.7" x2="608.04" y2="331.7" stroke="#000" stroke-width="1.7" stroke-linecap="butt"/>
<line x1="618.1" y1="370.6" x2="618.1" y2="353.7" stroke="#000" stroke-width="1.7" stroke-linecap="butt"/>
<polyline points="925.9,372.6 939.8,380.2 954.1,372.9 966,384.8 958.7,399.1 966.3,414.1" fill="none" stroke="#000" stroke-width="1.7" stroke-linejoin="miter"/>
<line x1="939.8" y1="380.2" x2="941.72" y2="389.62" stroke="#000" stroke-width="1.7" stroke-linecap="butt"/>
<line x1="958.7" y1="399.1" x2="949.28" y2="397.18" stroke="#000" stroke-width="1.7" stroke-linecap="butt"/>
<polyline points="925.9,372.6 912,380.2 897.7,372.9 885.8,384.8 893.1,399.1 885.5,413.2" fill="none" stroke="#000" stroke-width="1.7" stroke-linejoin="miter"/>
<line x1="912" y1="380.2" x2="910.08" y2="389.62" stroke="#000" stroke-width="1.7" stroke-linecap="butt"/>
<line x1="893.1" y1="399.1" x2="902.52" y2="397.18" stroke="#000" stroke-width="1.7" stroke-linecap="butt"/>
<polyline points="925.9,453.4 939.8,445.8 954.1,453.1 966,441.2 958.7,426.9 966.3,414.1" fill="none" stroke="#000" stroke-width="1.7" stroke-linejoin="miter"/>
<line x1="939.8" y1="445.8" x2="941.72" y2="436.38" stroke="#000" stroke-width="1.7" stroke-linecap="butt"/>
<line x1="958.7" y1="426.9" x2="949.28" y2="428.82" stroke="#000" stroke-width="1.7" stroke-linecap="butt"/>
<polyline points="925.9,453.4 912,445.8 897.7,453.1 885.8,441.2 893.1,426.9 885.5,413.2" fill="none" stroke="#000" stroke-width="1.7" stroke-linejoin="miter"/>
<line x1="912" y1="445.8" x2="910.08" y2="436.38" stroke="#000" stroke-width="1.7" stroke-linecap="butt"/>
<line x1="893.1" y1="426.9" x2="902.52" y2="428.82" stroke="#000" stroke-width="1.7" stroke-linecap="butt"/>
<line x1="907.37" y1="382.67" x2="898.42" y2="378.09" stroke="#000" stroke-width="1.7" stroke-linecap="butt"/>
<line x1="890.99" y1="385.52" x2="895.57" y2="394.47" stroke="#000" stroke-width="1.7" stroke-linecap="butt"/>
<line x1="926.64" y1="377.91" x2="936.68" y2="383.4" stroke="#000" stroke-width="1.7" stroke-linecap="butt"/>
<line x1="953.18" y1="378.06" x2="960.84" y2="385.72" stroke="#000" stroke-width="1.7" stroke-linecap="butt"/>
<line x1="956.3" y1="394.84" x2="951.38" y2="393.83" stroke="#000" stroke-width="1.7" stroke-linecap="butt"/>
<line x1="960.97" y1="414.66" x2="955.62" y2="423.67" stroke="#000" stroke-width="1.7" stroke-linecap="butt"/>
<line x1="926.64" y1="448.09" x2="936.68" y2="442.6" stroke="#000" stroke-width="1.7" stroke-linecap="butt"/>
<line x1="953.18" y1="447.94" x2="960.84" y2="440.28" stroke="#000" stroke-width="1.7" stroke-linecap="butt"/>
<line x1="890.81" y1="413.91" x2="896.28" y2="423.76" stroke="#000" stroke-width="1.7" stroke-linecap="butt"/>
<line x1="898.62" y1="447.94" x2="890.96" y2="440.28" stroke="#000" stroke-width="1.7" stroke-linecap="butt"/>
<line x1="907.74" y1="443.4" x2="906.73" y2="438.48" stroke="#000" stroke-width="1.7" stroke-linecap="butt"/>
<text x="904.6" y="402" font-family="Liberation Sans" font-size="14.5" text-anchor="start" font-weight="normal"><tspan fill="#1010ff" stroke="#1010ff" stroke-width="0.35">N</tspan><tspan fill="#000" stroke="#000" stroke-width="0.35">H</tspan></text>
<text x="938.1" y="402" font-family="Liberation Sans" font-size="14.5" text-anchor="start" font-weight="normal"><tspan fill="#1010ff" stroke="#1010ff" stroke-width="0.35">N</tspan></text>
<text x="926.6" y="433.5" font-family="Liberation Sans" font-size="14.5" text-anchor="start" font-weight="normal"><tspan fill="#000" stroke="#000" stroke-width="0.35">H</tspan><tspan fill="#1010ff" stroke="#1010ff" stroke-width="0.35">N</tspan></text>
<text x="904.6" y="434.3" font-family="Liberation Sans" font-size="14.5" text-anchor="start" font-weight="normal"><tspan fill="#1010ff" stroke="#1010ff" stroke-width="0.35">N</tspan></text>
<polygon points="925.9,502.3 912.04,494.3 912.04,478.3 925.9,470.3 939.76,478.3 939.76,494.3" fill="none" stroke="#000" stroke-width="1.7" stroke-linejoin="miter"/>
<line x1="926.07" y1="498.01" x2="915.68" y2="492.01" stroke="#000" stroke-width="1.7" stroke-linecap="butt"/>
<line x1="915.68" y1="480.59" x2="926.07" y2="474.59" stroke="#000" stroke-width="1.7" stroke-linecap="butt"/>
<line x1="935.96" y1="480.3" x2="935.96" y2="492.3" stroke="#000" stroke-width="1.7" stroke-linecap="butt"/>
<line x1="925.9" y1="453.4" x2="925.9" y2="470.3" stroke="#000" stroke-width="1.7" stroke-linecap="butt"/>
<path d="M925.9,502.3 L925.19,502.7 L924.81,503.1 L924.96,503.5 L925.56,503.9 L926.32,504.3 L926.88,504.7 L926.97,505.1 L926.55,505.5 L925.81,505.9 L925.12,506.3 L924.8,506.7 L925.01,507.1 L925.64,507.5 L926.4,507.9 L926.92,508.3 L926.95,508.7 L926.47,509.1 L925.73,509.5 L925.06,509.9 L924.8,510.3 L925.06,510.7 L925.73,511.1 L926.47,511.5 L926.95,511.9 L926.92,512.3 L926.4,512.7 L925.64,513.1 L925.01,513.5 L924.8,513.9 L925.12,514.3 L925.81,514.7 L926.55,515.1 L926.97,515.5 L926.88,515.9 L926.32,516.3 L925.56,516.7 L924.96,517.1 L924.81,517.5 L925.19,517.9 L925.9,518.3" fill="none" stroke="#000" stroke-width="1.1"/>
<polygon points="1016.5,414.1 1008.5,427.96 992.5,427.96 984.5,414.1 992.5,400.24 1008.5,400.24" fill="none" stroke="#000" stroke-width="1.7" stroke-linejoin="miter"/>
<line x1="1012.21" y1="413.93" x2="1006.21" y2="424.32" stroke="#000" stroke-width="1.7" stroke-linecap="butt"/>
<line x1="994.79" y1="424.32" x2="988.79" y2="413.93" stroke="#000" stroke-width="1.7" stroke-linecap="butt"/>
<line x1="994.5" y1="404.04" x2="1006.5" y2="404.04" stroke="#000" stroke-width="1.7" stroke-linecap="butt"/>
<line x1="966.3" y1="414.1" x2="984.5" y2="414.1" stroke="#000" stroke-width="1.7" stroke-linecap="butt"/>
<path d="M1016.5,414.1 L1016.9,414.81 L1017.3,415.19 L1017.7,415.04 L1018.1,414.44 L1018.5,413.68 L1018.9,413.12 L1019.3,413.03 L1019.7,413.45 L1020.1,414.19 L1020.5,414.88 L1020.9,415.2 L1021.3,414.99 L1021.7,414.36 L1022.1,413.6 L1022.5,413.08 L1022.9,413.05 L1023.3,413.53 L1023.7,414.27 L1024.1,414.94 L1024.5,415.2 L1024.9,414.94 L1025.3,414.27 L1025.7,413.53 L1026.1,413.05 L1026.5,413.08 L1026.9,413.6 L1027.3,414.36 L1027.7,414.99 L1028.1,415.2 L1028.5,414.88 L1028.9,414.19 L1029.3,413.45 L1029.7,413.03 L1030.1,413.12 L1030.5,413.68 L1030.9,414.44 L1031.3,415.04 L1031.7,415.19 L1032.1,414.81 L1032.5,414.1" fill="none" stroke="#000" stroke-width="1.1"/>
<polygon points="836.6,413.2 844.6,399.34 860.6,399.34 868.6,413.2 860.6,427.06 844.6,427.06" fill="none" stroke="#000" stroke-width="1.7" stroke-linejoin="miter"/>
<line x1="840.89" y1="413.37" x2="846.89" y2="402.98" stroke="#000" stroke-width="1.7" stroke-linecap="butt"/>
<line x1="858.31" y1="402.98" x2="864.31" y2="413.37" stroke="#000" stroke-width="1.7" stroke-linecap="butt"/>
<line x1="858.6" y1="423.26" x2="846.6" y2="423.26" stroke="#000" stroke-width="1.7" stroke-linecap="butt"/>
<line x1="885.5" y1="413.2" x2="868.6" y2="413.2" stroke="#000" stroke-width="1.7" stroke-linecap="butt"/>
<polygon points="925.9,323.7 939.76,331.7 939.76,347.7 925.9,355.7 912.04,347.7 912.04,331.7" fill="none" stroke="#000" stroke-width="1.7" stroke-linejoin="miter"/>
<line x1="925.73" y1="327.99" x2="936.12" y2="333.99" stroke="#000" stroke-width="1.7" stroke-linecap="butt"/>
<line x1="936.12" y1="345.41" x2="925.73" y2="351.41" stroke="#000" stroke-width="1.7" stroke-linecap="butt"/>
<line x1="915.84" y1="345.7" x2="915.84" y2="333.7" stroke="#000" stroke-width="1.7" stroke-linecap="butt"/>
<line x1="925.9" y1="372.6" x2="925.9" y2="355.7" stroke="#000" stroke-width="1.7" stroke-linecap="butt"/>
<line x1="701.7" y1="113.3" x2="711.3" y2="113.27" stroke="#000" stroke-width="1.7" stroke-linecap="butt"/>
<line x1="724.4" y1="109.26" x2="732.8" y2="105.46" stroke="#000" stroke-width="1.7" stroke-linecap="butt"/>
<line x1="723.2" y1="105.06" x2="730" y2="101.36" stroke="#000" stroke-width="1.7" stroke-linecap="butt"/>
<polygon points="748.19,109.56 759.65,97.69 775.66,101.68 780.21,117.54 768.75,129.41 752.74,125.42" fill="none" stroke="#000" stroke-width="1.7" stroke-linejoin="miter"/>
<circle cx="764.2" cy="113.55" r="10.6" fill="none" stroke="#000" stroke-width="1.1"/>
<text x="764.2" y="118.55" font-family="Liberation Sans" font-size="14.5" text-anchor="middle" font-weight="normal"><tspan fill="#000" stroke="#000" stroke-width="0.35">Ar</tspan></text>
<line x1="732.8" y1="105.46" x2="748.19" y2="109.56" stroke="#000" stroke-width="1.7" stroke-linecap="butt"/>
<line x1="780.21" y1="117.54" x2="796.4" y2="122.04" stroke="#000" stroke-width="1.7" stroke-linecap="butt"/>
<line x1="796.4" y1="122.04" x2="804.6" y2="117.64" stroke="#000" stroke-width="1.7" stroke-linecap="butt"/>
<line x1="795.2" y1="117.64" x2="802.7" y2="113.24" stroke="#000" stroke-width="1.7" stroke-linecap="butt"/>
<line x1="818.3" y1="112.93" x2="830.2" y2="113.2" stroke="#000" stroke-width="1.7" stroke-linecap="butt"/>
<text x="718.5" y="118.47" font-family="Liberation Sans" font-size="15" text-anchor="middle" font-weight="normal"><tspan fill="#1010ff" stroke="#1010ff" stroke-width="0.35">N</tspan></text>
<text x="812" y="118.14" font-family="Liberation Sans" font-size="15" text-anchor="middle" font-weight="normal"><tspan fill="#1010ff" stroke="#1010ff" stroke-width="0.35">N</tspan></text>
<line x1="707.4" y1="412.1" x2="717.24" y2="412.45" stroke="#000" stroke-width="1.7" stroke-linecap="butt"/>
<line x1="730.37" y1="408.5" x2="738.8" y2="404.73" stroke="#000" stroke-width="1.7" stroke-linecap="butt"/>
<line x1="729.18" y1="404.3" x2="736.01" y2="400.62" stroke="#000" stroke-width="1.7" stroke-linecap="butt"/>
<polygon points="754.25,408.89 765.75,397.07 781.75,401.12 786.24,416.99 774.74,428.82 758.74,424.77" fill="none" stroke="#000" stroke-width="1.7" stroke-linejoin="miter"/>
<circle cx="770.24" cy="412.94" r="10.6" fill="none" stroke="#000" stroke-width="1.1"/>
<text x="770.24" y="417.94" font-family="Liberation Sans" font-size="14.5" text-anchor="middle" font-weight="normal"><tspan fill="#000" stroke="#000" stroke-width="0.35">Ar</tspan></text>
<line x1="738.8" y1="404.73" x2="754.25" y2="408.89" stroke="#000" stroke-width="1.7" stroke-linecap="butt"/>
<line x1="786.24" y1="416.99" x2="802.49" y2="421.56" stroke="#000" stroke-width="1.7" stroke-linecap="butt"/>
<line x1="802.49" y1="421.56" x2="810.72" y2="417.19" stroke="#000" stroke-width="1.7" stroke-linecap="butt"/>
<line x1="801.3" y1="417.15" x2="808.83" y2="412.78" stroke="#000" stroke-width="1.7" stroke-linecap="butt"/>
<line x1="824.46" y1="412.54" x2="836.6" y2="413.2" stroke="#000" stroke-width="1.7" stroke-linecap="butt"/>
<text x="724.44" y="417.68" font-family="Liberation Sans" font-size="15" text-anchor="middle" font-weight="normal"><tspan fill="#1010ff" stroke="#1010ff" stroke-width="0.35">N</tspan></text>
<text x="818.16" y="417.71" font-family="Liberation Sans" font-size="15" text-anchor="middle" font-weight="normal"><tspan fill="#1010ff" stroke="#1010ff" stroke-width="0.35">N</tspan></text>
<line x1="612.4" y1="201.5" x2="611.67" y2="211.02" stroke="#000" stroke-width="1.7" stroke-linecap="butt"/>
<line x1="616.59" y1="223.39" x2="620.96" y2="230.92" stroke="#000" stroke-width="1.7" stroke-linecap="butt"/>
<line x1="620.7" y1="221.97" x2="624.86" y2="228.01" stroke="#000" stroke-width="1.7" stroke-linecap="butt"/>
<polygon points="617.83,244.44 630.51,255 627.71,271.26 612.22,276.96 599.55,266.4 602.35,250.14" fill="none" stroke="#000" stroke-width="1.7" stroke-linejoin="miter"/>
<circle cx="615.03" cy="260.7" r="10.6" fill="none" stroke="#000" stroke-width="1.1"/>
<text x="615.03" y="265.7" font-family="Liberation Sans" font-size="14.5" text-anchor="middle" font-weight="normal"><tspan fill="#000" stroke="#000" stroke-width="0.35">Ar</tspan></text>
<line x1="620.96" y1="230.92" x2="617.83" y2="244.44" stroke="#000" stroke-width="1.7" stroke-linecap="butt"/>
<line x1="612.22" y1="276.96" x2="608.76" y2="291.25" stroke="#000" stroke-width="1.7" stroke-linecap="butt"/>
<line x1="608.76" y1="291.25" x2="613.71" y2="298.55" stroke="#000" stroke-width="1.7" stroke-linecap="butt"/>
<line x1="613.06" y1="289.81" x2="617.96" y2="296.46" stroke="#000" stroke-width="1.7" stroke-linecap="butt"/>
<line x1="619.36" y1="311.36" x2="618.1" y2="321.7" stroke="#000" stroke-width="1.7" stroke-linecap="butt"/>
<text x="612.2" y="223.4" font-family="Liberation Sans" font-size="15" text-anchor="middle" font-weight="normal"><tspan fill="#1010ff" stroke="#1010ff" stroke-width="0.35">N</tspan></text>
<text x="618.9" y="310.28" font-family="Liberation Sans" font-size="15" text-anchor="middle" font-weight="normal"><tspan fill="#1010ff" stroke="#1010ff" stroke-width="0.35">N</tspan></text>
<line x1="919.5" y1="202.3" x2="919.97" y2="212.02" stroke="#000" stroke-width="1.7" stroke-linecap="butt"/>
<line x1="924.9" y1="224.43" x2="929.27" y2="232.02" stroke="#000" stroke-width="1.7" stroke-linecap="butt"/>
<line x1="929" y1="223" x2="933.17" y2="229.09" stroke="#000" stroke-width="1.7" stroke-linecap="butt"/>
<polygon points="926.17,245.78 938.86,256.33 936.06,272.59 920.58,278.3 907.9,267.75 910.69,251.49" fill="none" stroke="#000" stroke-width="1.7" stroke-linejoin="miter"/>
<circle cx="923.38" cy="262.04" r="10.6" fill="none" stroke="#000" stroke-width="1.1"/>
<text x="923.38" y="267.04" font-family="Liberation Sans" font-size="14.5" text-anchor="middle" font-weight="normal"><tspan fill="#000" stroke="#000" stroke-width="0.35">Ar</tspan></text>
<line x1="929.27" y1="232.02" x2="926.17" y2="245.78" stroke="#000" stroke-width="1.7" stroke-linecap="butt"/>
<line x1="920.58" y1="278.3" x2="917.14" y2="292.84" stroke="#000" stroke-width="1.7" stroke-linecap="butt"/>
<line x1="917.14" y1="292.84" x2="922.1" y2="300.19" stroke="#000" stroke-width="1.7" stroke-linecap="butt"/>
<line x1="921.44" y1="291.39" x2="926.35" y2="298.09" stroke="#000" stroke-width="1.7" stroke-linecap="butt"/>
<line x1="927.77" y1="313.06" x2="925.9" y2="323.7" stroke="#000" stroke-width="1.7" stroke-linecap="butt"/>
<text x="920.5" y="224.4" font-family="Liberation Sans" font-size="15" text-anchor="middle" font-weight="normal"><tspan fill="#1010ff" stroke="#1010ff" stroke-width="0.35">N</tspan></text>
<text x="927.3" y="311.98" font-family="Liberation Sans" font-size="15" text-anchor="middle" font-weight="normal"><tspan fill="#1010ff" stroke="#1010ff" stroke-width="0.35">N</tspan></text>
<circle cx="81.2" cy="139.4" r="20" fill="#808080"/>
<circle cx="88.47" cy="101.9" r="6.1" fill="url(#gC)"/>
<circle cx="73.93" cy="101.9" r="6.1" fill="url(#gC)"/>
<circle cx="118.7" cy="132.13" r="6.1" fill="url(#gC)"/>
<circle cx="88.47" cy="176.9" r="6.1" fill="url(#gC)"/>
<circle cx="43.7" cy="146.67" r="6.1" fill="url(#gC)"/>
<circle cx="118.7" cy="146.67" r="6.1" fill="url(#gC)"/>
<circle cx="73.93" cy="176.9" r="6.1" fill="url(#gC)"/>
<circle cx="43.7" cy="132.13" r="6.1" fill="url(#gC)"/>
<circle cx="81.2" cy="181.1" r="6.1" fill="url(#gC)"/>
<circle cx="39.5" cy="139.4" r="6.1" fill="url(#gC)"/>
<circle cx="81.2" cy="97.7" r="6.1" fill="url(#gC)"/>
<circle cx="122.9" cy="139.4" r="6.1" fill="url(#gC)"/>
<circle cx="88.47" cy="168.5" r="6.1" fill="url(#gC)"/>
<circle cx="52.1" cy="146.67" r="6.1" fill="url(#gC)"/>
<circle cx="88.47" cy="110.3" r="6.1" fill="url(#gC)"/>
<circle cx="73.93" cy="110.3" r="6.1" fill="url(#gC)"/>
<circle cx="110.3" cy="146.67" r="6.1" fill="url(#gC)"/>
<circle cx="110.3" cy="132.13" r="6.1" fill="url(#gC)"/>
<circle cx="73.93" cy="168.5" r="6.1" fill="url(#gC)"/>
<circle cx="52.1" cy="132.13" r="6.1" fill="url(#gC)"/>
<circle cx="95.1" cy="119.51" r="6.1" fill="url(#gC)"/>
<circle cx="101.09" cy="125.5" r="6.1" fill="url(#gC)"/>
<circle cx="67.3" cy="119.51" r="6.1" fill="url(#gC)"/>
<circle cx="61.31" cy="125.5" r="6.1" fill="url(#gC)"/>
<circle cx="95.1" cy="159.29" r="6.1" fill="url(#gC)"/>
<circle cx="101.09" cy="153.3" r="6.1" fill="url(#gC)"/>
<circle cx="67.3" cy="159.29" r="6.1" fill="url(#gC)"/>
<circle cx="61.31" cy="153.3" r="6.1" fill="url(#gC)"/>
<circle cx="81.2" cy="172.7" r="6.1" fill="url(#gC)"/>
<circle cx="47.9" cy="139.4" r="6.1" fill="url(#gC)"/>
<circle cx="81.2" cy="106.1" r="6.1" fill="url(#gC)"/>
<circle cx="114.5" cy="139.4" r="6.1" fill="url(#gC)"/>
<circle cx="81.2" cy="164.3" r="6.1" fill="url(#gC)"/>
<circle cx="56.3" cy="139.4" r="6.1" fill="url(#gC)"/>
<circle cx="81.2" cy="114.5" r="6.1" fill="url(#gC)"/>
<circle cx="106.1" cy="139.4" r="6.1" fill="url(#gC)"/>
<circle cx="87.98" cy="123.24" r="6.1" fill="url(#gC)"/>
<circle cx="97.36" cy="132.62" r="6.1" fill="url(#gC)"/>
<circle cx="74.42" cy="123.24" r="6.1" fill="url(#gC)"/>
<circle cx="65.04" cy="132.62" r="6.1" fill="url(#gC)"/>
<circle cx="87.98" cy="155.56" r="6.1" fill="url(#gC)"/>
<circle cx="97.36" cy="146.18" r="6.1" fill="url(#gC)"/>
<circle cx="74.42" cy="155.56" r="6.1" fill="url(#gC)"/>
<circle cx="65.04" cy="146.18" r="6.1" fill="url(#gC)"/>
<circle cx="81.2" cy="157.4" r="6.1" fill="url(#gC)"/>
<circle cx="63.2" cy="139.4" r="6.1" fill="url(#gC)"/>
<circle cx="81.2" cy="121.4" r="6.1" fill="url(#gC)"/>
<circle cx="99.2" cy="139.4" r="6.1" fill="url(#gC)"/>
<rect x="71.7" y="136.9" width="19" height="5" rx="2.3" fill="#fff"/>
<rect x="78.7" y="129.9" width="5" height="19" rx="2.3" fill="#fff"/>
<circle cx="81.2" cy="139.4" r="4.5" fill="#fff"/>
<circle cx="88.6" cy="132" r="4.5" fill="url(#gN)"/>
<circle cx="73.8" cy="132" r="4.5" fill="url(#gN)"/>
<circle cx="88.6" cy="146.8" r="4.5" fill="url(#gN)"/>
<circle cx="73.8" cy="146.8" r="4.5" fill="url(#gN)"/>
<circle cx="81.2" cy="90.3" r="4.9" fill="url(#gN)"/>
<circle cx="130.3" cy="139.4" r="4.9" fill="url(#gN)"/>
<circle cx="81.2" cy="188.5" r="4.9" fill="url(#gN)"/>
<circle cx="32.1" cy="139.4" r="4.9" fill="url(#gN)"/>
<circle cx="86.2" cy="378.6" r="6" fill="url(#gO)"/>
<circle cx="72.2" cy="436.2" r="6" fill="url(#gO)"/>
<circle cx="81.4" cy="385" r="9" fill="url(#gC)"/>
<circle cx="78.6" cy="430.7" r="9" fill="url(#gC)"/>
<circle cx="70" cy="400.2" r="9.3" fill="url(#gC)"/>
<circle cx="91" cy="401.2" r="9.3" fill="url(#gC)"/>
<circle cx="69.5" cy="412.6" r="9.3" fill="url(#gC)"/>
<circle cx="90" cy="413.6" r="9.3" fill="url(#gC)"/>
<circle cx="80.5" cy="396.4" r="9" fill="url(#gC)"/>
<circle cx="79" cy="418.3" r="9" fill="url(#gC)"/>
<circle cx="194.6" cy="558" r="9.2" fill="url(#gC)"/>
<circle cx="217.1" cy="558.6" r="9.2" fill="url(#gC)"/>
<circle cx="206.7" cy="563.8" r="9.2" fill="url(#gC)"/>
<circle cx="186.8" cy="566" r="9.3" fill="url(#gN)"/>
<circle cx="226.6" cy="566" r="9.3" fill="url(#gN)"/>
<polygon points="175.6,392.1 189.63,400.2 189.63,416.4 175.6,424.5 161.57,416.4 161.57,400.2" fill="none" stroke="#000" stroke-width="1.7" stroke-linejoin="miter"/>
<circle cx="175.6" cy="408.3" r="11.1" fill="none" stroke="#000" stroke-width="1.2"/>
<text x="175.4" y="413.3" font-family="Liberation Sans" font-size="14" text-anchor="middle" font-weight="normal"><tspan fill="#000" stroke="#000" stroke-width="0.35">Ar</tspan></text>
<line x1="175.6" y1="392.1" x2="175.6" y2="383.6" stroke="#000" stroke-width="1.7" stroke-linecap="butt"/>
<line x1="175.6" y1="424.5" x2="175.6" y2="433.5" stroke="#000" stroke-width="1.7" stroke-linecap="butt"/>
<text x="169.29" y="381.8" font-family="Liberation Sans" font-size="14.7" text-anchor="start" font-weight="normal"><tspan fill="#000" stroke="#000" stroke-width="0.35">CH</tspan><tspan fill="#ff1a1a" stroke="#ff1a1a" stroke-width="0.35">O</tspan></text>
<text x="169.29" y="446.4" font-family="Liberation Sans" font-size="14.7" text-anchor="start" font-weight="normal"><tspan fill="#000" stroke="#000" stroke-width="0.35">CH</tspan><tspan fill="#ff1a1a" stroke="#ff1a1a" stroke-width="0.35">O</tspan></text>
<polygon points="313.6,398.5 327.37,406.45 327.37,422.35 313.6,430.3 299.83,422.35 299.83,406.45" fill="none" stroke="#000" stroke-width="1.7" stroke-linejoin="miter"/>
<line x1="323.57" y1="408.45" x2="323.57" y2="420.35" stroke="#000" stroke-width="1.7" stroke-linecap="butt"/>
<line x1="313.77" y1="426.01" x2="303.46" y2="420.06" stroke="#000" stroke-width="1.7" stroke-linecap="butt"/>
<line x1="303.46" y1="408.74" x2="313.77" y2="402.79" stroke="#000" stroke-width="1.7" stroke-linecap="butt"/>
<line x1="313.6" y1="398.5" x2="313.6" y2="389.4" stroke="#000" stroke-width="1.7" stroke-linecap="butt"/>
<text x="308.29" y="387.6" font-family="Liberation Sans" font-size="14.7" text-anchor="start" font-weight="normal"><tspan fill="#000" stroke="#000" stroke-width="0.35">CH</tspan><tspan fill="#ff1a1a" stroke="#ff1a1a" stroke-width="0.35">O</tspan></text>
<line x1="313.6" y1="430.3" x2="313.6" y2="439.2" stroke="#000" stroke-width="1.7" stroke-linecap="butt"/>
<text x="308.29" y="452.3" font-family="Liberation Sans" font-size="14.7" text-anchor="start" font-weight="normal"><tspan fill="#000" stroke="#000" stroke-width="0.35">CH</tspan><tspan fill="#ff1a1a" stroke="#ff1a1a" stroke-width="0.35">O</tspan></text>
<line x1="327.37" y1="406.45" x2="335.6" y2="401" stroke="#000" stroke-width="1.7" stroke-linecap="butt"/>
<text x="335.7" y="403.7" font-family="Liberation Sans" font-size="14.7" text-anchor="start" font-weight="normal"><tspan fill="#ff1a1a" stroke="#ff1a1a" stroke-width="0.35">O</tspan><tspan fill="#000" stroke="#000" stroke-width="0.35">H</tspan></text>
<line x1="299.83" y1="422.35" x2="291.6" y2="426.6" stroke="#000" stroke-width="1.7" stroke-linecap="butt"/>
<text x="290.6" y="436.8" font-family="Liberation Sans" font-size="14.7" text-anchor="end" font-weight="normal"><tspan fill="#000" stroke="#000" stroke-width="0.35">H</tspan><tspan fill="#ff1a1a" stroke="#ff1a1a" stroke-width="0.35">O</tspan></text>
<polygon points="404.3,371.4 418.24,379.45 418.24,395.55 404.3,403.6 390.36,395.55 390.36,379.45" fill="none" stroke="#000" stroke-width="1.7" stroke-linejoin="miter"/>
<line x1="404.13" y1="375.69" x2="414.61" y2="381.74" stroke="#000" stroke-width="1.7" stroke-linecap="butt"/>
<line x1="414.61" y1="393.26" x2="404.13" y2="399.31" stroke="#000" stroke-width="1.7" stroke-linecap="butt"/>
<line x1="394.16" y1="393.55" x2="394.16" y2="381.45" stroke="#000" stroke-width="1.7" stroke-linecap="butt"/>
<line x1="404.3" y1="371.4" x2="404.3" y2="362.9" stroke="#000" stroke-width="1.7" stroke-linecap="butt"/>
<text x="398.99" y="361.3" font-family="Liberation Sans" font-size="14.7" text-anchor="start" font-weight="normal"><tspan fill="#000" stroke="#000" stroke-width="0.35">CH</tspan><tspan fill="#ff1a1a" stroke="#ff1a1a" stroke-width="0.35">O</tspan></text>
<line x1="404.3" y1="403.6" x2="404.3" y2="420.9" stroke="#000" stroke-width="1.7" stroke-linecap="butt"/>
<line x1="404.3" y1="420.9" x2="411.97" y2="425.33" stroke="#000" stroke-width="1.7" stroke-linecap="butt"/>
<polyline points="418.24,436.15 418.24,445.05 404.3,453.1 390.36,445.05 390.36,428.95 404.3,420.9" fill="none" stroke="#000" stroke-width="1.7" stroke-linejoin="miter"/>
<line x1="393.99" y1="431.24" x2="404.47" y2="425.19" stroke="#000" stroke-width="1.7" stroke-linecap="butt"/>
<line x1="404.47" y1="448.81" x2="393.99" y2="442.76" stroke="#000" stroke-width="1.7" stroke-linecap="butt"/>
<line x1="414.44" y1="436.65" x2="414.44" y2="443.05" stroke="#000" stroke-width="1.7" stroke-linecap="butt"/>
<text x="418.24" y="434.35" font-family="Liberation Sans" font-size="14.7" text-anchor="middle" font-weight="normal"><tspan fill="#1010ff" stroke="#1010ff" stroke-width="0.35">N</tspan></text>
<line x1="404.3" y1="453.1" x2="404.3" y2="462" stroke="#000" stroke-width="1.7" stroke-linecap="butt"/>
<text x="398.99" y="475.2" font-family="Liberation Sans" font-size="14.7" text-anchor="start" font-weight="normal"><tspan fill="#000" stroke="#000" stroke-width="0.35">CH</tspan><tspan fill="#ff1a1a" stroke="#ff1a1a" stroke-width="0.35">O</tspan></text>
<text x="310.5" y="508.2" font-family="Liberation Sans" font-size="17.5" text-anchor="middle" font-weight="normal"><tspan fill="#000" stroke="#000" stroke-width="0.35">2D COF-1</tspan></text>
<text x="414.2" y="508.2" font-family="Liberation Sans" font-size="17.5" text-anchor="middle" font-weight="normal"><tspan fill="#000" stroke="#000" stroke-width="0.35">2D COF-2</tspan></text>
<text x="207.2" y="598.2" font-family="Liberation Sans" font-size="17.9" text-anchor="middle" font-weight="normal"><tspan fill="#000" stroke="#000" stroke-width="0.35">Diethylenetriamine</tspan></text>
<text x="693.6" y="598" font-family="Liberation Sans" font-size="18.2" text-anchor="middle" font-weight="normal"><tspan fill="#000" stroke="#000" stroke-width="0.35">Polyacrylic acid</tspan></text>
<text x="392.6" y="586.4" font-family="Liberation Sans" font-size="14.7" text-anchor="end" font-weight="normal"><tspan fill="#000" stroke="#000" stroke-width="0.35">H</tspan><tspan fill="#000" stroke="#000" stroke-width="0.35" font-size="10.58" dy="4.12">2</tspan><tspan dy="-4.12"></tspan><tspan fill="#1010ff" stroke="#1010ff" stroke-width="0.35">N</tspan></text>
<polyline points="395.3,577 402.9,572.7 417.3,581.7 423.4,578" fill="none" stroke="#000" stroke-width="1.7" stroke-linejoin="miter"/>
<text x="430.2" y="578.6" font-family="Liberation Sans" font-size="14.7" text-anchor="middle" font-weight="normal"><tspan fill="#1010ff" stroke="#1010ff" stroke-width="0.35">N</tspan></text>
<text x="430.2" y="565.1" font-family="Liberation Sans" font-size="14.7" text-anchor="middle" font-weight="normal"><tspan fill="#000" stroke="#000" stroke-width="0.35">H</tspan></text>
<polyline points="438.2,578 445.6,581.7 459.8,572.7 466.6,577" fill="none" stroke="#000" stroke-width="1.7" stroke-linejoin="miter"/>
<text x="469" y="586.4" font-family="Liberation Sans" font-size="14.7" text-anchor="start" font-weight="normal"><tspan fill="#1010ff" stroke="#1010ff" stroke-width="0.35">N</tspan><tspan fill="#000" stroke="#000" stroke-width="0.35">H</tspan><tspan fill="#000" stroke="#000" stroke-width="0.35" font-size="10.58" dy="4.12">2</tspan><tspan dy="-4.12"></tspan></text>
<path d="M635.4,565.4 C640,562 645,558.5 650,558.5 C658,558.5 662,566.2 669.3,566.2 C677,566.2 680,559.3 687,559.3 C695,559.3 698,566.2 705.5,566.2 C713,566.2 716,558.5 723,558.5 C730,558.5 733,565.4 740,565.4 C745,565.4 747,563 749.5,560.8" fill="none" stroke="#4a6fc6" stroke-width="5" stroke-linecap="butt"/>
<polyline points="866.9,555.8 884.8,545.6 899.3,559.8 916.1,550.3" fill="none" stroke="#000" stroke-width="1.9" stroke-linejoin="miter"/>
<line x1="899.3" y1="559.8" x2="899.3" y2="580.2" stroke="#000" stroke-width="1.9" stroke-linecap="butt"/>
<line x1="899.3" y1="580.2" x2="888" y2="586.9" stroke="#000" stroke-width="1.9" stroke-linecap="butt"/>
<line x1="899.9" y1="577.8" x2="910.8" y2="584.3" stroke="#000" stroke-width="1.9" stroke-linecap="butt"/>
<line x1="898.3" y1="582.4" x2="908.4" y2="588.8" stroke="#000" stroke-width="1.9" stroke-linecap="butt"/>
<path d="M874.2,541.2 Q869.4,550.3 874.2,559.4" fill="none" stroke="#000" stroke-width="0.9"/>
<path d="M911,541.2 Q915.8,550.3 911,559.4" fill="none" stroke="#000" stroke-width="0.9"/>
<text x="914.8" y="566.7" font-family="Liberation Sans" font-size="14.6" text-anchor="start" font-weight="normal"><tspan fill="#000" stroke="#000" stroke-width="0.35">n</tspan></text>
<text x="885.8" y="596.6" font-family="Liberation Sans" font-size="15.0" text-anchor="end" font-weight="normal"><tspan fill="#000" stroke="#000" stroke-width="0.35">H</tspan><tspan fill="#ff1a1a" stroke="#ff1a1a" stroke-width="0.35">O</tspan></text>
<text x="910.6" y="596.6" font-family="Liberation Sans" font-size="15.0" text-anchor="start" font-weight="normal"><tspan fill="#ff1a1a" stroke="#ff1a1a" stroke-width="0.35">O</tspan></text>
<path d="M36,673.3 C31,680 27.4,688 27.4,696 C27.4,704 38,707 38,716 C38,726 26.8,730 26.8,741 C26.8,753 38,757 38,768 C38,780 26.8,783 26.8,794 C26.8,806 38,809 38,820 C38,831 30,838 27.4,845.5" fill="none" stroke="#4a70c8" stroke-width="4.4"/>
<use href="#iconG" transform="translate(71.6,693.2) scale(1.17)"/>
<circle cx="55.18" cy="765.88" r="3.42" fill="url(#gO)"/>
<circle cx="88.02" cy="773.86" r="3.42" fill="url(#gO)"/>
<circle cx="58.83" cy="768.62" r="5.13" fill="url(#gC)"/>
<circle cx="84.88" cy="770.21" r="5.13" fill="url(#gC)"/>
<circle cx="67.5" cy="775.11" r="5.3" fill="url(#gC)"/>
<circle cx="68.07" cy="763.14" r="5.3" fill="url(#gC)"/>
<circle cx="74.56" cy="775.4" r="5.3" fill="url(#gC)"/>
<circle cx="75.13" cy="763.71" r="5.3" fill="url(#gC)"/>
<circle cx="65.33" cy="769.13" r="5.13" fill="url(#gC)"/>
<circle cx="77.81" cy="769.98" r="5.13" fill="url(#gC)"/>
<circle cx="64.7" cy="836.49" r="5.24" fill="url(#gC)"/>
<circle cx="77.53" cy="836.83" r="5.24" fill="url(#gC)"/>
<circle cx="71.6" cy="839.8" r="5.24" fill="url(#gC)"/>
<circle cx="60.26" cy="841.05" r="5.3" fill="url(#gN)"/>
<circle cx="82.94" cy="841.05" r="5.3" fill="url(#gN)"/>
<line x1="111" y1="763" x2="143" y2="763" stroke="#000" stroke-width="2.0" stroke-linecap="butt"/>
<path d="M148,763 L137.4,758.6 L140.4,763 L137.4,767.4 Z" fill="#000"/>
<path d="M181.3,652.1 C185.3,658.1 190,665.5 196,665.5 C204,665.5 210.4,647.8 219.4,647.8 C228.4,647.8 234.8,665.5 242.8,665.5 C250.8,665.5 258.5,647.8 267.5,647.8 C276.5,647.8 284.2,665.5 292.2,665.5 C300.2,665.5 307.5,647.8 316.5,647.8 C325.5,647.8 332.8,665.5 340.8,665.5" fill="none" stroke="#4a70c8" stroke-width="4.6" stroke-linejoin="round"/>
<rect x="194.2" y="665.5" width="3.6" height="13" fill="#4a70c8"/>
<path d="M193.2,682.6 L196,680 L198.8,682.6 M196,680 L196,678" fill="none" stroke="#4a70c8" stroke-width="1.0"/>
<rect x="241" y="665.5" width="3.6" height="13" fill="#4a70c8"/>
<path d="M240,682.6 L242.8,680 L245.6,682.6 M242.8,680 L242.8,678" fill="none" stroke="#4a70c8" stroke-width="1.0"/>
<rect x="290.4" y="665.5" width="3.6" height="13" fill="#4a70c8"/>
<path d="M289.4,682.6 L292.2,680 L295,682.6 M292.2,680 L292.2,678" fill="none" stroke="#4a70c8" stroke-width="1.0"/>
<rect x="339" y="665.5" width="3.6" height="13" fill="#4a70c8"/>
<path d="M338,682.6 L340.8,680 L343.6,682.6 M340.8,680 L340.8,678" fill="none" stroke="#4a70c8" stroke-width="1.0"/>
<use href="#iconG" transform="translate(196,699.8) scale(0.93)"/>
<use href="#iconG" transform="translate(243.7,699.8) scale(0.93)"/>
<use href="#iconG" transform="translate(292.2,699.8) scale(0.93)"/>
<use href="#iconG" transform="translate(339.9,699.8) scale(0.93)"/>
<use href="#linkG" transform="translate(243.7,724.5) rotate(90)"/>
<circle cx="243.7" cy="731.5" r="1.9" fill="url(#gN)"/>
<circle cx="244.2" cy="734" r="1.9" fill="url(#gC)"/>
<circle cx="243.7" cy="736.4" r="1.9" fill="url(#gN)"/>
<use href="#linkG" transform="translate(292.2,724.5) rotate(90)"/>
<circle cx="292.2" cy="731.5" r="1.9" fill="url(#gN)"/>
<circle cx="292.7" cy="734" r="1.9" fill="url(#gC)"/>
<circle cx="292.2" cy="736.4" r="1.9" fill="url(#gN)"/>
<circle cx="223.85" cy="733.06" r="1.8" fill="url(#gO)"/>
<circle cx="207.78" cy="740.67" r="1.8" fill="url(#gO)"/>
<circle cx="221.45" cy="733.15" r="2.7" fill="url(#gC)"/>
<circle cx="210.27" cy="741.13" r="2.7" fill="url(#gC)"/>
<circle cx="215.75" cy="733.36" r="2.79" fill="url(#gC)"/>
<circle cx="219.48" cy="738.45" r="2.79" fill="url(#gC)"/>
<circle cx="212.77" cy="735.59" r="2.79" fill="url(#gC)"/>
<circle cx="216.4" cy="740.56" r="2.79" fill="url(#gC)"/>
<circle cx="218.62" cy="735.09" r="2.7" fill="url(#gC)"/>
<circle cx="213.23" cy="738.88" r="2.7" fill="url(#gC)"/>
<circle cx="321.19" cy="735.4" r="2.39" fill="url(#gC)"/>
<circle cx="326.33" cy="732.61" r="2.39" fill="url(#gC)"/>
<circle cx="324.66" cy="735.13" r="2.39" fill="url(#gC)"/>
<circle cx="320.47" cy="738.21" r="2.42" fill="url(#gN)"/>
<circle cx="329.43" cy="733.04" r="2.42" fill="url(#gN)"/>
<line x1="366" y1="763" x2="398.3" y2="763" stroke="#000" stroke-width="2.0" stroke-linecap="butt"/>
<path d="M403.3,763 L392.7,758.6 L395.7,763 L392.7,767.4 Z" fill="#000"/>
<line x1="674" y1="763" x2="706.5" y2="763" stroke="#000" stroke-width="2.0" stroke-linecap="butt"/>
<path d="M711.5,763 L700.9,758.6 L703.9,763 L700.9,767.4 Z" fill="#000"/>
<use href="#nodeP" transform="translate(504.4,697.9) scale(0.96)"/>
<use href="#nodeP" transform="translate(552.5,697.9) scale(0.96)"/>
<use href="#nodeP" transform="translate(600.5,697.9) scale(0.96)"/>
<use href="#nodeP" transform="translate(648.6,697.9) scale(0.96)"/>
<use href="#nodeP" transform="translate(504.4,744.5) scale(0.96)"/>
<use href="#nodeP" transform="translate(552.5,744.5) scale(0.96)"/>
<use href="#nodeP" transform="translate(600.5,744.5) scale(0.96)"/>
<use href="#nodeP" transform="translate(648.6,744.5) scale(0.96)"/>
<use href="#nodeP" transform="translate(504.4,791.1) scale(0.96)"/>
<use href="#nodeP" transform="translate(552.5,791.1) scale(0.96)"/>
<use href="#nodeP" transform="translate(600.5,791.1) scale(0.96)"/>
<use href="#nodeP" transform="translate(648.6,791.1) scale(0.96)"/>
<use href="#nodeP" transform="translate(504.4,837.8) scale(0.96)"/>
<use href="#nodeP" transform="translate(552.5,837.8) scale(0.96)"/>
<use href="#nodeP" transform="translate(600.5,837.8) scale(0.96)"/>
<use href="#nodeP" transform="translate(648.6,837.8) scale(0.96)"/>
<use href="#linkP" transform="translate(528.45,697.9)"/>
<use href="#linkP" transform="translate(504.4,721.2) rotate(90)"/>
<use href="#linkP" transform="translate(576.5,697.9)"/>
<use href="#linkP" transform="translate(552.5,721.2) rotate(90)"/>
<use href="#linkP" transform="translate(624.55,697.9)"/>
<use href="#linkP" transform="translate(600.5,721.2) rotate(90)"/>
<use href="#linkP" transform="translate(648.6,721.2) rotate(90)"/>
<use href="#linkP" transform="translate(528.45,744.5)"/>
<use href="#linkP" transform="translate(504.4,767.8) rotate(90)"/>
<use href="#linkP" transform="translate(576.5,744.5)"/>
<use href="#linkP" transform="translate(552.5,767.8) rotate(90)"/>
<use href="#linkP" transform="translate(624.55,744.5)"/>
<use href="#linkP" transform="translate(600.5,767.8) rotate(90)"/>
<use href="#linkP" transform="translate(648.6,767.8) rotate(90)"/>
<use href="#linkP" transform="translate(528.45,791.1)"/>
<use href="#linkP" transform="translate(504.4,814.45) rotate(90)"/>
<use href="#linkP" transform="translate(576.5,791.1)"/>
<use href="#linkP" transform="translate(552.5,814.45) rotate(90)"/>
<use href="#linkP" transform="translate(624.55,791.1)"/>
<use href="#linkP" transform="translate(600.5,814.45) rotate(90)"/>
<use href="#linkP" transform="translate(648.6,814.45) rotate(90)"/>
<use href="#linkP" transform="translate(528.45,837.8)"/>
<use href="#linkP" transform="translate(576.5,837.8)"/>
<use href="#linkP" transform="translate(624.55,837.8)"/>
<path d="M489.5,652 C493.5,658 498.4,665.5 504.4,665.5 C512.4,665.5 519.45,647.8 528.45,647.8 C537.45,647.8 544.5,665.5 552.5,665.5 C560.5,665.5 567.5,647.8 576.5,647.8 C585.5,647.8 592.5,665.5 600.5,665.5 C608.5,665.5 615.55,647.8 624.55,647.8 C633.55,647.8 640.6,665.5 648.6,665.5" fill="none" stroke="#4a70c8" stroke-width="4.6" stroke-linejoin="round"/>
<rect x="502.6" y="665.5" width="3.6" height="13" fill="#4a70c8"/>
<path d="M501.6,682.6 L504.4,680 L507.2,682.6 M504.4,680 L504.4,678" fill="none" stroke="#4a70c8" stroke-width="1.0"/>
<rect x="550.7" y="665.5" width="3.6" height="13" fill="#4a70c8"/>
<path d="M549.7,682.6 L552.5,680 L555.3,682.6 M552.5,680 L552.5,678" fill="none" stroke="#4a70c8" stroke-width="1.0"/>
<rect x="598.7" y="665.5" width="3.6" height="13" fill="#4a70c8"/>
<path d="M597.7,682.6 L600.5,680 L603.3,682.6 M600.5,680 L600.5,678" fill="none" stroke="#4a70c8" stroke-width="1.0"/>
<rect x="646.8" y="665.5" width="3.6" height="13" fill="#4a70c8"/>
<path d="M645.8,682.6 L648.6,680 L651.4,682.6 M648.6,680 L648.6,678" fill="none" stroke="#4a70c8" stroke-width="1.0"/>
<use href="#nodeG" transform="translate(434.6,725.4)"/>
<use href="#nodeG" transform="translate(480.7,725.4)"/>
<use href="#nodeG" transform="translate(434.6,773)"/>
<use href="#nodeG" transform="translate(480.7,773)"/>
<use href="#nodeG" transform="translate(434.6,820.3)"/>
<use href="#nodeG" transform="translate(480.7,820.3)"/>
<use href="#nodeG" transform="translate(434.6,867.2)"/>
<use href="#nodeG" transform="translate(480.7,867.2)"/>
<use href="#linkG" transform="translate(457.65,725.4)"/>
<use href="#linkG" transform="translate(434.6,749.2) rotate(90)"/>
<use href="#linkG" transform="translate(480.7,749.2) rotate(90)"/>
<use href="#linkG" transform="translate(457.65,773)"/>
<use href="#linkG" transform="translate(434.6,796.65) rotate(90)"/>
<use href="#linkG" transform="translate(480.7,796.65) rotate(90)"/>
<use href="#linkG" transform="translate(457.65,820.3)"/>
<use href="#linkG" transform="translate(434.6,843.75) rotate(90)"/>
<use href="#linkG" transform="translate(480.7,843.75) rotate(90)"/>
<use href="#linkG" transform="translate(457.65,867.2)"/>
<circle cx="499.6" cy="722.5" r="2.1" fill="url(#gC)"/>
<circle cx="498.3" cy="724.41" r="2.1" fill="url(#gC)"/>
<circle cx="495.7" cy="724.41" r="2.1" fill="url(#gC)"/>
<circle cx="494.4" cy="722.5" r="2.1" fill="url(#gC)"/>
<circle cx="495.7" cy="720.59" r="2.1" fill="url(#gC)"/>
<circle cx="498.3" cy="720.59" r="2.1" fill="url(#gC)"/>
<circle cx="497" cy="722.5" r="2.1" fill="url(#gC)"/>
<circle cx="503.2" cy="722.02" r="1.7" fill="url(#gN)"/>
<circle cx="511" cy="721.63" r="2.1" fill="url(#gC)"/>
<circle cx="509.7" cy="723.54" r="2.1" fill="url(#gC)"/>
<circle cx="507.1" cy="723.54" r="2.1" fill="url(#gC)"/>
<circle cx="505.8" cy="721.63" r="2.1" fill="url(#gC)"/>
<circle cx="507.1" cy="719.72" r="2.1" fill="url(#gC)"/>
<circle cx="509.7" cy="719.72" r="2.1" fill="url(#gC)"/>
<circle cx="508.4" cy="721.63" r="2.1" fill="url(#gC)"/>
<circle cx="514.6" cy="721.22" r="1.7" fill="url(#gN)"/>
<circle cx="522.4" cy="720.93" r="2.1" fill="url(#gC)"/>
<circle cx="521.1" cy="722.84" r="2.1" fill="url(#gC)"/>
<circle cx="518.5" cy="722.84" r="2.1" fill="url(#gC)"/>
<circle cx="517.2" cy="720.93" r="2.1" fill="url(#gC)"/>
<circle cx="518.5" cy="719.01" r="2.1" fill="url(#gC)"/>
<circle cx="521.1" cy="719.01" r="2.1" fill="url(#gC)"/>
<circle cx="519.8" cy="720.93" r="2.1" fill="url(#gC)"/>
<circle cx="526" cy="720.67" r="1.7" fill="url(#gN)"/>
<circle cx="533.8" cy="720.53" r="2.1" fill="url(#gC)"/>
<circle cx="532.5" cy="722.45" r="2.1" fill="url(#gC)"/>
<circle cx="529.9" cy="722.45" r="2.1" fill="url(#gC)"/>
<circle cx="528.6" cy="720.53" r="2.1" fill="url(#gC)"/>
<circle cx="529.9" cy="718.62" r="2.1" fill="url(#gC)"/>
<circle cx="532.5" cy="718.62" r="2.1" fill="url(#gC)"/>
<circle cx="531.2" cy="720.53" r="2.1" fill="url(#gC)"/>
<circle cx="537.4" cy="720.48" r="1.7" fill="url(#gN)"/>
<circle cx="545.2" cy="720.53" r="2.1" fill="url(#gC)"/>
<circle cx="543.9" cy="722.45" r="2.1" fill="url(#gC)"/>
<circle cx="541.3" cy="722.45" r="2.1" fill="url(#gC)"/>
<circle cx="540" cy="720.53" r="2.1" fill="url(#gC)"/>
<circle cx="541.3" cy="718.62" r="2.1" fill="url(#gC)"/>
<circle cx="543.9" cy="718.62" r="2.1" fill="url(#gC)"/>
<circle cx="542.6" cy="720.53" r="2.1" fill="url(#gC)"/>
<circle cx="548.8" cy="720.71" r="1.7" fill="url(#gN)"/>
<circle cx="556.6" cy="720.95" r="2.1" fill="url(#gC)"/>
<circle cx="555.3" cy="722.86" r="2.1" fill="url(#gC)"/>
<circle cx="552.7" cy="722.86" r="2.1" fill="url(#gC)"/>
<circle cx="551.4" cy="720.95" r="2.1" fill="url(#gC)"/>
<circle cx="552.7" cy="719.03" r="2.1" fill="url(#gC)"/>
<circle cx="555.3" cy="719.03" r="2.1" fill="url(#gC)"/>
<circle cx="554" cy="720.95" r="2.1" fill="url(#gC)"/>
<circle cx="560.2" cy="721.33" r="1.7" fill="url(#gN)"/>
<circle cx="568" cy="721.73" r="2.1" fill="url(#gC)"/>
<circle cx="566.7" cy="723.64" r="2.1" fill="url(#gC)"/>
<circle cx="564.1" cy="723.64" r="2.1" fill="url(#gC)"/>
<circle cx="562.8" cy="721.73" r="2.1" fill="url(#gC)"/>
<circle cx="564.1" cy="719.82" r="2.1" fill="url(#gC)"/>
<circle cx="566.7" cy="719.82" r="2.1" fill="url(#gC)"/>
<circle cx="565.4" cy="721.73" r="2.1" fill="url(#gC)"/>
<circle cx="571.6" cy="722.28" r="1.7" fill="url(#gN)"/>
<circle cx="579.4" cy="722.77" r="2.1" fill="url(#gC)"/>
<circle cx="578.1" cy="724.69" r="2.1" fill="url(#gC)"/>
<circle cx="575.5" cy="724.69" r="2.1" fill="url(#gC)"/>
<circle cx="574.2" cy="722.77" r="2.1" fill="url(#gC)"/>
<circle cx="575.5" cy="720.86" r="2.1" fill="url(#gC)"/>
<circle cx="578.1" cy="720.86" r="2.1" fill="url(#gC)"/>
<circle cx="576.8" cy="722.77" r="2.1" fill="url(#gC)"/>
<circle cx="583" cy="723.4" r="1.7" fill="url(#gN)"/>
<circle cx="499.6" cy="772" r="2.1" fill="url(#gC)"/>
<circle cx="498.3" cy="773.91" r="2.1" fill="url(#gC)"/>
<circle cx="495.7" cy="773.91" r="2.1" fill="url(#gC)"/>
<circle cx="494.4" cy="772" r="2.1" fill="url(#gC)"/>
<circle cx="495.7" cy="770.09" r="2.1" fill="url(#gC)"/>
<circle cx="498.3" cy="770.09" r="2.1" fill="url(#gC)"/>
<circle cx="497" cy="772" r="2.1" fill="url(#gC)"/>
<circle cx="503.2" cy="771.22" r="1.7" fill="url(#gN)"/>
<circle cx="511" cy="770.58" r="2.1" fill="url(#gC)"/>
<circle cx="509.7" cy="772.5" r="2.1" fill="url(#gC)"/>
<circle cx="507.1" cy="772.5" r="2.1" fill="url(#gC)"/>
<circle cx="505.8" cy="770.58" r="2.1" fill="url(#gC)"/>
<circle cx="507.1" cy="768.67" r="2.1" fill="url(#gC)"/>
<circle cx="509.7" cy="768.67" r="2.1" fill="url(#gC)"/>
<circle cx="508.4" cy="770.58" r="2.1" fill="url(#gC)"/>
<circle cx="514.6" cy="769.84" r="1.7" fill="url(#gN)"/>
<circle cx="522.4" cy="769.25" r="2.1" fill="url(#gC)"/>
<circle cx="521.1" cy="771.17" r="2.1" fill="url(#gC)"/>
<circle cx="518.5" cy="771.17" r="2.1" fill="url(#gC)"/>
<circle cx="517.2" cy="769.25" r="2.1" fill="url(#gC)"/>
<circle cx="518.5" cy="767.34" r="2.1" fill="url(#gC)"/>
<circle cx="521.1" cy="767.34" r="2.1" fill="url(#gC)"/>
<circle cx="519.8" cy="769.25" r="2.1" fill="url(#gC)"/>
<circle cx="526" cy="768.59" r="1.7" fill="url(#gN)"/>
<circle cx="533.8" cy="768.08" r="2.1" fill="url(#gC)"/>
<circle cx="532.5" cy="769.99" r="2.1" fill="url(#gC)"/>
<circle cx="529.9" cy="769.99" r="2.1" fill="url(#gC)"/>
<circle cx="528.6" cy="768.08" r="2.1" fill="url(#gC)"/>
<circle cx="529.9" cy="766.16" r="2.1" fill="url(#gC)"/>
<circle cx="532.5" cy="766.16" r="2.1" fill="url(#gC)"/>
<circle cx="531.2" cy="768.08" r="2.1" fill="url(#gC)"/>
<circle cx="537.4" cy="767.53" r="1.7" fill="url(#gN)"/>
<circle cx="545.2" cy="767.12" r="2.1" fill="url(#gC)"/>
<circle cx="543.9" cy="769.03" r="2.1" fill="url(#gC)"/>
<circle cx="541.3" cy="769.03" r="2.1" fill="url(#gC)"/>
<circle cx="540" cy="767.12" r="2.1" fill="url(#gC)"/>
<circle cx="541.3" cy="765.2" r="2.1" fill="url(#gC)"/>
<circle cx="543.9" cy="765.2" r="2.1" fill="url(#gC)"/>
<circle cx="542.6" cy="767.12" r="2.1" fill="url(#gC)"/>
<circle cx="548.8" cy="766.7" r="1.7" fill="url(#gN)"/>
<circle cx="556.6" cy="766.41" r="2.1" fill="url(#gC)"/>
<circle cx="555.3" cy="768.32" r="2.1" fill="url(#gC)"/>
<circle cx="552.7" cy="768.32" r="2.1" fill="url(#gC)"/>
<circle cx="551.4" cy="766.41" r="2.1" fill="url(#gC)"/>
<circle cx="552.7" cy="764.49" r="2.1" fill="url(#gC)"/>
<circle cx="555.3" cy="764.49" r="2.1" fill="url(#gC)"/>
<circle cx="554" cy="766.41" r="2.1" fill="url(#gC)"/>
<circle cx="560.2" cy="766.13" r="1.7" fill="url(#gN)"/>
<circle cx="568" cy="765.96" r="2.1" fill="url(#gC)"/>
<circle cx="566.7" cy="767.87" r="2.1" fill="url(#gC)"/>
<circle cx="564.1" cy="767.87" r="2.1" fill="url(#gC)"/>
<circle cx="562.8" cy="765.96" r="2.1" fill="url(#gC)"/>
<circle cx="564.1" cy="764.04" r="2.1" fill="url(#gC)"/>
<circle cx="566.7" cy="764.04" r="2.1" fill="url(#gC)"/>
<circle cx="565.4" cy="765.96" r="2.1" fill="url(#gC)"/>
<circle cx="571.6" cy="765.82" r="1.7" fill="url(#gN)"/>
<circle cx="579.4" cy="765.75" r="2.1" fill="url(#gC)"/>
<circle cx="578.1" cy="767.67" r="2.1" fill="url(#gC)"/>
<circle cx="575.5" cy="767.67" r="2.1" fill="url(#gC)"/>
<circle cx="574.2" cy="765.75" r="2.1" fill="url(#gC)"/>
<circle cx="575.5" cy="763.84" r="2.1" fill="url(#gC)"/>
<circle cx="578.1" cy="763.84" r="2.1" fill="url(#gC)"/>
<circle cx="576.8" cy="765.75" r="2.1" fill="url(#gC)"/>
<circle cx="583" cy="765.73" r="1.7" fill="url(#gN)"/>
<circle cx="590.8" cy="765.74" r="2.1" fill="url(#gC)"/>
<circle cx="589.5" cy="767.66" r="2.1" fill="url(#gC)"/>
<circle cx="586.9" cy="767.66" r="2.1" fill="url(#gC)"/>
<circle cx="585.6" cy="765.74" r="2.1" fill="url(#gC)"/>
<circle cx="586.9" cy="763.83" r="2.1" fill="url(#gC)"/>
<circle cx="589.5" cy="763.83" r="2.1" fill="url(#gC)"/>
<circle cx="588.2" cy="765.74" r="2.1" fill="url(#gC)"/>
<circle cx="594.4" cy="765.8" r="1.7" fill="url(#gN)"/>
<circle cx="602.2" cy="765.87" r="2.1" fill="url(#gC)"/>
<circle cx="600.9" cy="767.79" r="2.1" fill="url(#gC)"/>
<circle cx="598.3" cy="767.79" r="2.1" fill="url(#gC)"/>
<circle cx="597" cy="765.87" r="2.1" fill="url(#gC)"/>
<circle cx="598.3" cy="763.96" r="2.1" fill="url(#gC)"/>
<circle cx="600.9" cy="763.96" r="2.1" fill="url(#gC)"/>
<circle cx="599.6" cy="765.87" r="2.1" fill="url(#gC)"/>
<circle cx="605.8" cy="765.97" r="1.7" fill="url(#gN)"/>
<circle cx="499.6" cy="820" r="2.1" fill="url(#gC)"/>
<circle cx="498.3" cy="821.91" r="2.1" fill="url(#gC)"/>
<circle cx="495.7" cy="821.91" r="2.1" fill="url(#gC)"/>
<circle cx="494.4" cy="820" r="2.1" fill="url(#gC)"/>
<circle cx="495.7" cy="818.09" r="2.1" fill="url(#gC)"/>
<circle cx="498.3" cy="818.09" r="2.1" fill="url(#gC)"/>
<circle cx="497" cy="820" r="2.1" fill="url(#gC)"/>
<circle cx="503.2" cy="819.24" r="1.7" fill="url(#gN)"/>
<circle cx="511" cy="818.6" r="2.1" fill="url(#gC)"/>
<circle cx="509.7" cy="820.52" r="2.1" fill="url(#gC)"/>
<circle cx="507.1" cy="820.52" r="2.1" fill="url(#gC)"/>
<circle cx="505.8" cy="818.6" r="2.1" fill="url(#gC)"/>
<circle cx="507.1" cy="816.69" r="2.1" fill="url(#gC)"/>
<circle cx="509.7" cy="816.69" r="2.1" fill="url(#gC)"/>
<circle cx="508.4" cy="818.6" r="2.1" fill="url(#gC)"/>
<circle cx="514.6" cy="817.87" r="1.7" fill="url(#gN)"/>
<circle cx="522.4" cy="817.29" r="2.1" fill="url(#gC)"/>
<circle cx="521.1" cy="819.2" r="2.1" fill="url(#gC)"/>
<circle cx="518.5" cy="819.2" r="2.1" fill="url(#gC)"/>
<circle cx="517.2" cy="817.29" r="2.1" fill="url(#gC)"/>
<circle cx="518.5" cy="815.37" r="2.1" fill="url(#gC)"/>
<circle cx="521.1" cy="815.37" r="2.1" fill="url(#gC)"/>
<circle cx="519.8" cy="817.29" r="2.1" fill="url(#gC)"/>
<circle cx="526" cy="816.63" r="1.7" fill="url(#gN)"/>
<circle cx="533.8" cy="816.12" r="2.1" fill="url(#gC)"/>
<circle cx="532.5" cy="818.03" r="2.1" fill="url(#gC)"/>
<circle cx="529.9" cy="818.03" r="2.1" fill="url(#gC)"/>
<circle cx="528.6" cy="816.12" r="2.1" fill="url(#gC)"/>
<circle cx="529.9" cy="814.21" r="2.1" fill="url(#gC)"/>
<circle cx="532.5" cy="814.21" r="2.1" fill="url(#gC)"/>
<circle cx="531.2" cy="816.12" r="2.1" fill="url(#gC)"/>
<circle cx="537.4" cy="815.57" r="1.7" fill="url(#gN)"/>
<circle cx="545.2" cy="815.16" r="2.1" fill="url(#gC)"/>
<circle cx="543.9" cy="817.08" r="2.1" fill="url(#gC)"/>
<circle cx="541.3" cy="817.08" r="2.1" fill="url(#gC)"/>
<circle cx="540" cy="815.16" r="2.1" fill="url(#gC)"/>
<circle cx="541.3" cy="813.25" r="2.1" fill="url(#gC)"/>
<circle cx="543.9" cy="813.25" r="2.1" fill="url(#gC)"/>
<circle cx="542.6" cy="815.16" r="2.1" fill="url(#gC)"/>
<circle cx="548.8" cy="814.74" r="1.7" fill="url(#gN)"/>
<circle cx="556.6" cy="814.45" r="2.1" fill="url(#gC)"/>
<circle cx="555.3" cy="816.36" r="2.1" fill="url(#gC)"/>
<circle cx="552.7" cy="816.36" r="2.1" fill="url(#gC)"/>
<circle cx="551.4" cy="814.45" r="2.1" fill="url(#gC)"/>
<circle cx="552.7" cy="812.53" r="2.1" fill="url(#gC)"/>
<circle cx="555.3" cy="812.53" r="2.1" fill="url(#gC)"/>
<circle cx="554" cy="814.45" r="2.1" fill="url(#gC)"/>
<circle cx="560.2" cy="814.17" r="1.7" fill="url(#gN)"/>
<circle cx="568" cy="813.99" r="2.1" fill="url(#gC)"/>
<circle cx="566.7" cy="815.9" r="2.1" fill="url(#gC)"/>
<circle cx="564.1" cy="815.9" r="2.1" fill="url(#gC)"/>
<circle cx="562.8" cy="813.99" r="2.1" fill="url(#gC)"/>
<circle cx="564.1" cy="812.07" r="2.1" fill="url(#gC)"/>
<circle cx="566.7" cy="812.07" r="2.1" fill="url(#gC)"/>
<circle cx="565.4" cy="813.99" r="2.1" fill="url(#gC)"/>
<circle cx="571.6" cy="813.84" r="1.7" fill="url(#gN)"/>
<circle cx="579.4" cy="813.76" r="2.1" fill="url(#gC)"/>
<circle cx="578.1" cy="815.68" r="2.1" fill="url(#gC)"/>
<circle cx="575.5" cy="815.68" r="2.1" fill="url(#gC)"/>
<circle cx="574.2" cy="813.76" r="2.1" fill="url(#gC)"/>
<circle cx="575.5" cy="811.85" r="2.1" fill="url(#gC)"/>
<circle cx="578.1" cy="811.85" r="2.1" fill="url(#gC)"/>
<circle cx="576.8" cy="813.76" r="2.1" fill="url(#gC)"/>
<circle cx="583" cy="813.73" r="1.7" fill="url(#gN)"/>
<circle cx="590.8" cy="813.74" r="2.1" fill="url(#gC)"/>
<circle cx="589.5" cy="815.65" r="2.1" fill="url(#gC)"/>
<circle cx="586.9" cy="815.65" r="2.1" fill="url(#gC)"/>
<circle cx="585.6" cy="813.74" r="2.1" fill="url(#gC)"/>
<circle cx="586.9" cy="811.82" r="2.1" fill="url(#gC)"/>
<circle cx="589.5" cy="811.82" r="2.1" fill="url(#gC)"/>
<circle cx="588.2" cy="813.74" r="2.1" fill="url(#gC)"/>
<circle cx="594.4" cy="813.79" r="1.7" fill="url(#gN)"/>
<circle cx="602.2" cy="813.85" r="2.1" fill="url(#gC)"/>
<circle cx="600.9" cy="815.77" r="2.1" fill="url(#gC)"/>
<circle cx="598.3" cy="815.77" r="2.1" fill="url(#gC)"/>
<circle cx="597" cy="813.85" r="2.1" fill="url(#gC)"/>
<circle cx="598.3" cy="811.94" r="2.1" fill="url(#gC)"/>
<circle cx="600.9" cy="811.94" r="2.1" fill="url(#gC)"/>
<circle cx="599.6" cy="813.85" r="2.1" fill="url(#gC)"/>
<circle cx="605.8" cy="813.95" r="1.7" fill="url(#gN)"/>
<circle cx="499.6" cy="867" r="2.1" fill="url(#gC)"/>
<circle cx="498.3" cy="868.91" r="2.1" fill="url(#gC)"/>
<circle cx="495.7" cy="868.91" r="2.1" fill="url(#gC)"/>
<circle cx="494.4" cy="867" r="2.1" fill="url(#gC)"/>
<circle cx="495.7" cy="865.09" r="2.1" fill="url(#gC)"/>
<circle cx="498.3" cy="865.09" r="2.1" fill="url(#gC)"/>
<circle cx="497" cy="867" r="2.1" fill="url(#gC)"/>
<circle cx="503.2" cy="866.33" r="1.7" fill="url(#gN)"/>
<circle cx="511" cy="865.77" r="2.1" fill="url(#gC)"/>
<circle cx="509.7" cy="867.69" r="2.1" fill="url(#gC)"/>
<circle cx="507.1" cy="867.69" r="2.1" fill="url(#gC)"/>
<circle cx="505.8" cy="865.77" r="2.1" fill="url(#gC)"/>
<circle cx="507.1" cy="863.86" r="2.1" fill="url(#gC)"/>
<circle cx="509.7" cy="863.86" r="2.1" fill="url(#gC)"/>
<circle cx="508.4" cy="865.77" r="2.1" fill="url(#gC)"/>
<circle cx="514.6" cy="865.14" r="1.7" fill="url(#gN)"/>
<circle cx="522.4" cy="864.64" r="2.1" fill="url(#gC)"/>
<circle cx="521.1" cy="866.55" r="2.1" fill="url(#gC)"/>
<circle cx="518.5" cy="866.55" r="2.1" fill="url(#gC)"/>
<circle cx="517.2" cy="864.64" r="2.1" fill="url(#gC)"/>
<circle cx="518.5" cy="862.72" r="2.1" fill="url(#gC)"/>
<circle cx="521.1" cy="862.72" r="2.1" fill="url(#gC)"/>
<circle cx="519.8" cy="864.64" r="2.1" fill="url(#gC)"/>
<circle cx="526" cy="864.08" r="1.7" fill="url(#gN)"/>
<circle cx="533.8" cy="863.66" r="2.1" fill="url(#gC)"/>
<circle cx="532.5" cy="865.57" r="2.1" fill="url(#gC)"/>
<circle cx="529.9" cy="865.57" r="2.1" fill="url(#gC)"/>
<circle cx="528.6" cy="863.66" r="2.1" fill="url(#gC)"/>
<circle cx="529.9" cy="861.75" r="2.1" fill="url(#gC)"/>
<circle cx="532.5" cy="861.75" r="2.1" fill="url(#gC)"/>
<circle cx="531.2" cy="863.66" r="2.1" fill="url(#gC)"/>
<circle cx="537.4" cy="863.22" r="1.7" fill="url(#gN)"/>
<circle cx="545.2" cy="862.91" r="2.1" fill="url(#gC)"/>
<circle cx="543.9" cy="864.82" r="2.1" fill="url(#gC)"/>
<circle cx="541.3" cy="864.82" r="2.1" fill="url(#gC)"/>
<circle cx="540" cy="862.91" r="2.1" fill="url(#gC)"/>
<circle cx="541.3" cy="860.99" r="2.1" fill="url(#gC)"/>
<circle cx="543.9" cy="860.99" r="2.1" fill="url(#gC)"/>
<circle cx="542.6" cy="862.91" r="2.1" fill="url(#gC)"/>
<circle cx="548.8" cy="862.61" r="1.7" fill="url(#gN)"/>
<circle cx="556.6" cy="862.41" r="2.1" fill="url(#gC)"/>
<circle cx="555.3" cy="864.33" r="2.1" fill="url(#gC)"/>
<circle cx="552.7" cy="864.33" r="2.1" fill="url(#gC)"/>
<circle cx="551.4" cy="862.41" r="2.1" fill="url(#gC)"/>
<circle cx="552.7" cy="860.5" r="2.1" fill="url(#gC)"/>
<circle cx="555.3" cy="860.5" r="2.1" fill="url(#gC)"/>
<circle cx="554" cy="862.41" r="2.1" fill="url(#gC)"/>
<circle cx="560.2" cy="862.26" r="1.7" fill="url(#gN)"/>
<circle cx="568" cy="862.19" r="2.1" fill="url(#gC)"/>
<circle cx="566.7" cy="864.1" r="2.1" fill="url(#gC)"/>
<circle cx="564.1" cy="864.1" r="2.1" fill="url(#gC)"/>
<circle cx="562.8" cy="862.19" r="2.1" fill="url(#gC)"/>
<circle cx="564.1" cy="860.27" r="2.1" fill="url(#gC)"/>
<circle cx="566.7" cy="860.27" r="2.1" fill="url(#gC)"/>
<circle cx="565.4" cy="862.19" r="2.1" fill="url(#gC)"/>
<circle cx="571.6" cy="862.17" r="1.7" fill="url(#gN)"/>
<circle cx="579.4" cy="862.21" r="2.1" fill="url(#gC)"/>
<circle cx="578.1" cy="864.12" r="2.1" fill="url(#gC)"/>
<circle cx="575.5" cy="864.12" r="2.1" fill="url(#gC)"/>
<circle cx="574.2" cy="862.21" r="2.1" fill="url(#gC)"/>
<circle cx="575.5" cy="860.29" r="2.1" fill="url(#gC)"/>
<circle cx="578.1" cy="860.29" r="2.1" fill="url(#gC)"/>
<circle cx="576.8" cy="862.21" r="2.1" fill="url(#gC)"/>
<circle cx="583" cy="862.31" r="1.7" fill="url(#gN)"/>
<circle cx="590.8" cy="862.43" r="2.1" fill="url(#gC)"/>
<circle cx="589.5" cy="864.34" r="2.1" fill="url(#gC)"/>
<circle cx="586.9" cy="864.34" r="2.1" fill="url(#gC)"/>
<circle cx="585.6" cy="862.43" r="2.1" fill="url(#gC)"/>
<circle cx="586.9" cy="860.51" r="2.1" fill="url(#gC)"/>
<circle cx="589.5" cy="860.51" r="2.1" fill="url(#gC)"/>
<circle cx="588.2" cy="862.43" r="2.1" fill="url(#gC)"/>
<circle cx="594.4" cy="862.61" r="1.7" fill="url(#gN)"/>
<circle cx="602.2" cy="862.78" r="2.1" fill="url(#gC)"/>
<circle cx="600.9" cy="864.69" r="2.1" fill="url(#gC)"/>
<circle cx="598.3" cy="864.69" r="2.1" fill="url(#gC)"/>
<circle cx="597" cy="862.78" r="2.1" fill="url(#gC)"/>
<circle cx="598.3" cy="860.86" r="2.1" fill="url(#gC)"/>
<circle cx="600.9" cy="860.86" r="2.1" fill="url(#gC)"/>
<circle cx="599.6" cy="862.78" r="2.1" fill="url(#gC)"/>
<circle cx="605.8" cy="862.99" r="1.7" fill="url(#gN)"/>
<use href="#nodeG" transform="translate(620.4,723.2) rotate(45) scale(0.62)"/>
<use href="#nodeG" transform="translate(575.9,787.7) rotate(30) scale(0.62)"/>
<use href="#nodeG" transform="translate(628.6,810) rotate(40) scale(0.62)"/>
<rect x="412.5" y="724.8" width="1.4" height="1.2" fill="#999"/>
<rect x="415.1" y="724.8" width="1.4" height="1.2" fill="#999"/>
<rect x="417.7" y="724.8" width="1.4" height="1.2" fill="#999"/>
<rect x="412.5" y="772.4" width="1.4" height="1.2" fill="#999"/>
<rect x="415.1" y="772.4" width="1.4" height="1.2" fill="#999"/>
<rect x="417.7" y="772.4" width="1.4" height="1.2" fill="#999"/>
<rect x="412.5" y="819.7" width="1.4" height="1.2" fill="#999"/>
<rect x="415.1" y="819.7" width="1.4" height="1.2" fill="#999"/>
<rect x="417.7" y="819.7" width="1.4" height="1.2" fill="#999"/>
<rect x="412.5" y="866.6" width="1.4" height="1.2" fill="#999"/>
<rect x="415.1" y="866.6" width="1.4" height="1.2" fill="#999"/>
<rect x="417.7" y="866.6" width="1.4" height="1.2" fill="#999"/>
<rect x="434" y="706" width="1.2" height="1.4" fill="#999"/>
<rect x="434" y="708.6" width="1.2" height="1.4" fill="#999"/>
<rect x="434" y="711.2" width="1.2" height="1.4" fill="#999"/>
<rect x="434" y="884" width="1.2" height="1.4" fill="#999"/>
<rect x="434" y="886.6" width="1.2" height="1.4" fill="#999"/>
<rect x="434" y="889.2" width="1.2" height="1.4" fill="#999"/>
<rect x="480.1" y="706" width="1.2" height="1.4" fill="#999"/>
<rect x="480.1" y="708.6" width="1.2" height="1.4" fill="#999"/>
<rect x="480.1" y="711.2" width="1.2" height="1.4" fill="#999"/>
<rect x="480.1" y="884" width="1.2" height="1.4" fill="#999"/>
<rect x="480.1" y="886.6" width="1.2" height="1.4" fill="#999"/>
<rect x="480.1" y="889.2" width="1.2" height="1.4" fill="#999"/>
<rect x="660" y="697.3" width="1.4" height="1.2" fill="#e08080"/>
<rect x="662.6" y="697.3" width="1.4" height="1.2" fill="#e08080"/>
<rect x="665.2" y="697.3" width="1.4" height="1.2" fill="#e08080"/>
<rect x="660" y="743.9" width="1.4" height="1.2" fill="#e08080"/>
<rect x="662.6" y="743.9" width="1.4" height="1.2" fill="#e08080"/>
<rect x="665.2" y="743.9" width="1.4" height="1.2" fill="#e08080"/>
<rect x="660" y="790.5" width="1.4" height="1.2" fill="#e08080"/>
<rect x="662.6" y="790.5" width="1.4" height="1.2" fill="#e08080"/>
<rect x="665.2" y="790.5" width="1.4" height="1.2" fill="#e08080"/>
<rect x="660" y="837.2" width="1.4" height="1.2" fill="#e08080"/>
<rect x="662.6" y="837.2" width="1.4" height="1.2" fill="#e08080"/>
<rect x="665.2" y="837.2" width="1.4" height="1.2" fill="#e08080"/>
<rect x="503.8" y="852" width="1.2" height="1.4" fill="#e08080"/>
<rect x="503.8" y="854.6" width="1.2" height="1.4" fill="#e08080"/>
<rect x="503.8" y="857.2" width="1.2" height="1.4" fill="#e08080"/>
<rect x="551.9" y="852" width="1.2" height="1.4" fill="#e08080"/>
<rect x="551.9" y="854.6" width="1.2" height="1.4" fill="#e08080"/>
<rect x="551.9" y="857.2" width="1.2" height="1.4" fill="#e08080"/>
<rect x="599.9" y="852" width="1.2" height="1.4" fill="#e08080"/>
<rect x="599.9" y="854.6" width="1.2" height="1.4" fill="#e08080"/>
<rect x="599.9" y="857.2" width="1.2" height="1.4" fill="#e08080"/>
<rect x="648" y="852" width="1.2" height="1.4" fill="#e08080"/>
<rect x="648" y="854.6" width="1.2" height="1.4" fill="#e08080"/>
<rect x="648" y="857.2" width="1.2" height="1.4" fill="#e08080"/>
<use href="#nodeP" transform="translate(865.5,697) scale(0.96)"/>
<use href="#nodeP" transform="translate(915.2,697) scale(0.96)"/>
<use href="#nodeP" transform="translate(966.2,697) scale(0.96)"/>
<use href="#nodeP" transform="translate(1016.3,697) scale(0.96)"/>
<use href="#nodeP" transform="translate(865.5,747) scale(0.96)"/>
<use href="#nodeP" transform="translate(915.2,747) scale(0.96)"/>
<use href="#nodeP" transform="translate(966.2,747) scale(0.96)"/>
<use href="#nodeP" transform="translate(1016.3,747) scale(0.96)"/>
<use href="#nodeP" transform="translate(865.5,795.7) scale(0.96)"/>
<use href="#nodeP" transform="translate(915.2,795.7) scale(0.96)"/>
<use href="#nodeP" transform="translate(966.2,795.7) scale(0.96)"/>
<use href="#nodeP" transform="translate(1016.3,795.7) scale(0.96)"/>
<use href="#nodeP" transform="translate(865.5,844.5) scale(0.96)"/>
<use href="#nodeP" transform="translate(915.2,844.5) scale(0.96)"/>
<use href="#nodeP" transform="translate(966.2,844.5) scale(0.96)"/>
<use href="#nodeP" transform="translate(1016.3,844.5) scale(0.96)"/>
<use href="#linkP" transform="translate(890.35,697)"/>
<use href="#linkP" transform="translate(865.5,722) rotate(90)"/>
<use href="#linkP" transform="translate(940.7,697)"/>
<use href="#linkP" transform="translate(915.2,722) rotate(90)"/>
<use href="#linkP" transform="translate(991.25,697)"/>
<use href="#linkP" transform="translate(966.2,722) rotate(90)"/>
<use href="#linkP" transform="translate(1016.3,722) rotate(90)"/>
<use href="#linkP" transform="translate(890.35,747)"/>
<use href="#linkP" transform="translate(865.5,771.35) rotate(90)"/>
<use href="#linkP" transform="translate(940.7,747)"/>
<use href="#linkP" transform="translate(915.2,771.35) rotate(90)"/>
<use href="#linkP" transform="translate(991.25,747)"/>
<use href="#linkP" transform="translate(966.2,771.35) rotate(90)"/>
<use href="#linkP" transform="translate(1016.3,771.35) rotate(90)"/>
<use href="#linkP" transform="translate(890.35,795.7)"/>
<use href="#linkP" transform="translate(865.5,820.1) rotate(90)"/>
<use href="#linkP" transform="translate(940.7,795.7)"/>
<use href="#linkP" transform="translate(915.2,820.1) rotate(90)"/>
<use href="#linkP" transform="translate(991.25,795.7)"/>
<use href="#linkP" transform="translate(966.2,820.1) rotate(90)"/>
<use href="#linkP" transform="translate(1016.3,820.1) rotate(90)"/>
<use href="#linkP" transform="translate(890.35,844.5)"/>
<use href="#linkP" transform="translate(940.7,844.5)"/>
<use href="#linkP" transform="translate(991.25,844.5)"/>
<path d="M849.5,652 C853.5,658 859.5,665.5 865.5,665.5 C873.5,665.5 881.35,647.8 890.35,647.8 C899.35,647.8 907.2,665.5 915.2,665.5 C923.2,665.5 931.7,647.8 940.7,647.8 C949.7,647.8 958.2,665.5 966.2,665.5 C974.2,665.5 982.25,647.8 991.25,647.8 C1000.25,647.8 1008.3,665.5 1016.3,665.5" fill="none" stroke="#4a70c8" stroke-width="4.6" stroke-linejoin="round"/>
<rect x="863.7" y="665.5" width="3.6" height="13" fill="#4a70c8"/>
<path d="M862.7,682.6 L865.5,680 L868.3,682.6 M865.5,680 L865.5,678" fill="none" stroke="#4a70c8" stroke-width="1.0"/>
<rect x="913.4" y="665.5" width="3.6" height="13" fill="#4a70c8"/>
<path d="M912.4,682.6 L915.2,680 L918,682.6 M915.2,680 L915.2,678" fill="none" stroke="#4a70c8" stroke-width="1.0"/>
<rect x="964.4" y="665.5" width="3.6" height="13" fill="#4a70c8"/>
<path d="M963.4,682.6 L966.2,680 L969,682.6 M966.2,680 L966.2,678" fill="none" stroke="#4a70c8" stroke-width="1.0"/>
<rect x="1014.5" y="665.5" width="3.6" height="13" fill="#4a70c8"/>
<path d="M1013.5,682.6 L1016.3,680 L1019.1,682.6 M1016.3,680 L1016.3,678" fill="none" stroke="#4a70c8" stroke-width="1.0"/>
<use href="#nodeG" transform="translate(742.6,721.5)"/>
<use href="#nodeG" transform="translate(792.4,721.5)"/>
<use href="#nodeG" transform="translate(841,721.5)"/>
<use href="#nodeG" transform="translate(890.3,721.5)"/>
<use href="#nodeG" transform="translate(742.6,771.5)"/>
<use href="#nodeG" transform="translate(792.4,771.5)"/>
<use href="#nodeG" transform="translate(841,771.5)"/>
<use href="#nodeG" transform="translate(890.3,771.5)"/>
<use href="#nodeG" transform="translate(742.6,820.5)"/>
<use href="#nodeG" transform="translate(792.4,820.5)"/>
<use href="#nodeG" transform="translate(841,820.5)"/>
<use href="#nodeG" transform="translate(890.3,820.5)"/>
<use href="#nodeG" transform="translate(742.6,870)"/>
<use href="#nodeG" transform="translate(792.4,870)"/>
<use href="#nodeG" transform="translate(841,870)"/>
<use href="#nodeG" transform="translate(890.3,870)"/>
<use href="#linkG" transform="translate(767.5,721.5)"/>
<use href="#linkG" transform="translate(742.6,746.5) rotate(90)"/>
<use href="#linkG" transform="translate(816.7,721.5)"/>
<use href="#linkG" transform="translate(792.4,746.5) rotate(90)"/>
<use href="#linkG" transform="translate(865.65,721.5)"/>
<use href="#linkG" transform="translate(841,746.5) rotate(90)"/>
<use href="#linkG" transform="translate(890.3,746.5) rotate(90)"/>
<use href="#linkG" transform="translate(767.5,771.5)"/>
<use href="#linkG" transform="translate(742.6,796) rotate(90)"/>
<use href="#linkG" transform="translate(816.7,771.5)"/>
<use href="#linkG" transform="translate(792.4,796) rotate(90)"/>
<use href="#linkG" transform="translate(865.65,771.5)"/>
<use href="#linkG" transform="translate(841,796) rotate(90)"/>
<use href="#linkG" transform="translate(890.3,796) rotate(90)"/>
<use href="#linkG" transform="translate(767.5,820.5)"/>
<use href="#linkG" transform="translate(742.6,845.25) rotate(90)"/>
<use href="#linkG" transform="translate(816.7,820.5)"/>
<use href="#linkG" transform="translate(792.4,845.25) rotate(90)"/>
<use href="#linkG" transform="translate(865.65,820.5)"/>
<use href="#linkG" transform="translate(841,845.25) rotate(90)"/>
<use href="#linkG" transform="translate(890.3,845.25) rotate(90)"/>
<use href="#linkG" transform="translate(767.5,870)"/>
<use href="#linkG" transform="translate(816.7,870)"/>
<use href="#linkG" transform="translate(865.65,870)"/>
<rect x="720" y="720.9" width="1.4" height="1.2" fill="#999"/>
<rect x="722.6" y="720.9" width="1.4" height="1.2" fill="#999"/>
<rect x="725.2" y="720.9" width="1.4" height="1.2" fill="#999"/>
<rect x="720" y="770.9" width="1.4" height="1.2" fill="#999"/>
<rect x="722.6" y="770.9" width="1.4" height="1.2" fill="#999"/>
<rect x="725.2" y="770.9" width="1.4" height="1.2" fill="#999"/>
<rect x="720" y="819.9" width="1.4" height="1.2" fill="#999"/>
<rect x="722.6" y="819.9" width="1.4" height="1.2" fill="#999"/>
<rect x="725.2" y="819.9" width="1.4" height="1.2" fill="#999"/>
<rect x="720" y="869.4" width="1.4" height="1.2" fill="#999"/>
<rect x="722.6" y="869.4" width="1.4" height="1.2" fill="#999"/>
<rect x="725.2" y="869.4" width="1.4" height="1.2" fill="#999"/>
<rect x="742" y="700" width="1.2" height="1.4" fill="#999"/>
<rect x="742" y="702.6" width="1.2" height="1.4" fill="#999"/>
<rect x="742" y="705.2" width="1.2" height="1.4" fill="#999"/>
<rect x="742" y="887" width="1.2" height="1.4" fill="#999"/>
<rect x="742" y="889.6" width="1.2" height="1.4" fill="#999"/>
<rect x="742" y="892.2" width="1.2" height="1.4" fill="#999"/>
<rect x="791.8" y="700" width="1.2" height="1.4" fill="#999"/>
<rect x="791.8" y="702.6" width="1.2" height="1.4" fill="#999"/>
<rect x="791.8" y="705.2" width="1.2" height="1.4" fill="#999"/>
<rect x="791.8" y="887" width="1.2" height="1.4" fill="#999"/>
<rect x="791.8" y="889.6" width="1.2" height="1.4" fill="#999"/>
<rect x="791.8" y="892.2" width="1.2" height="1.4" fill="#999"/>
<rect x="840.4" y="700" width="1.2" height="1.4" fill="#999"/>
<rect x="840.4" y="702.6" width="1.2" height="1.4" fill="#999"/>
<rect x="840.4" y="705.2" width="1.2" height="1.4" fill="#999"/>
<rect x="840.4" y="887" width="1.2" height="1.4" fill="#999"/>
<rect x="840.4" y="889.6" width="1.2" height="1.4" fill="#999"/>
<rect x="840.4" y="892.2" width="1.2" height="1.4" fill="#999"/>
<rect x="889.7" y="700" width="1.2" height="1.4" fill="#999"/>
<rect x="889.7" y="702.6" width="1.2" height="1.4" fill="#999"/>
<rect x="889.7" y="705.2" width="1.2" height="1.4" fill="#999"/>
<rect x="889.7" y="887" width="1.2" height="1.4" fill="#999"/>
<rect x="889.7" y="889.6" width="1.2" height="1.4" fill="#999"/>
<rect x="889.7" y="892.2" width="1.2" height="1.4" fill="#999"/>
<rect x="1030" y="696.4" width="1.4" height="1.2" fill="#e08080"/>
<rect x="1032.6" y="696.4" width="1.4" height="1.2" fill="#e08080"/>
<rect x="1035.2" y="696.4" width="1.4" height="1.2" fill="#e08080"/>
<rect x="1030" y="746.4" width="1.4" height="1.2" fill="#e08080"/>
<rect x="1032.6" y="746.4" width="1.4" height="1.2" fill="#e08080"/>
<rect x="1035.2" y="746.4" width="1.4" height="1.2" fill="#e08080"/>
<rect x="1030" y="795.1" width="1.4" height="1.2" fill="#e08080"/>
<rect x="1032.6" y="795.1" width="1.4" height="1.2" fill="#e08080"/>
<rect x="1035.2" y="795.1" width="1.4" height="1.2" fill="#e08080"/>
<rect x="1030" y="843.9" width="1.4" height="1.2" fill="#e08080"/>
<rect x="1032.6" y="843.9" width="1.4" height="1.2" fill="#e08080"/>
<rect x="1035.2" y="843.9" width="1.4" height="1.2" fill="#e08080"/>
<rect x="914.6" y="860" width="1.2" height="1.4" fill="#e08080"/>
<rect x="914.6" y="862.6" width="1.2" height="1.4" fill="#e08080"/>
<rect x="914.6" y="865.2" width="1.2" height="1.4" fill="#e08080"/>
<rect x="965.6" y="860" width="1.2" height="1.4" fill="#e08080"/>
<rect x="965.6" y="862.6" width="1.2" height="1.4" fill="#e08080"/>
<rect x="965.6" y="865.2" width="1.2" height="1.4" fill="#e08080"/>
<rect x="1015.7" y="860" width="1.2" height="1.4" fill="#e08080"/>
<rect x="1015.7" y="862.6" width="1.2" height="1.4" fill="#e08080"/>
<rect x="1015.7" y="865.2" width="1.2" height="1.4" fill="#e08080"/>
<use href="#linkG" transform="translate(210.8,774.7) rotate(15.54)"/>
<use href="#linkG" transform="translate(190.1,785.65) rotate(103.65)"/>
<use href="#linkG" transform="translate(203.25,806.35) rotate(16.59)"/>
<use href="#linkG" transform="translate(223.95,795.4) rotate(103.19)"/>
<use href="#linkG" transform="translate(243.35,785.35) rotate(20.82)"/>
<circle cx="183" cy="765" r="1.8" fill="url(#gN)"/>
<use href="#ringG" transform="translate(178.47,761.88) rotate(-145.49) scale(0.95)"/>
<circle cx="175" cy="759.5" r="2" fill="url(#gO)"/>
<circle cx="233" cy="766" r="1.8" fill="url(#gN)"/>
<use href="#ringG" transform="translate(235.08,760.91) rotate(-67.83) scale(0.95)"/>
<circle cx="235.2" cy="760.6" r="2" fill="url(#gO)"/>
<circle cx="171" cy="797" r="1.8" fill="url(#gN)"/>
<use href="#ringG" transform="translate(165.75,795.35) rotate(-162.5) scale(0.95)"/>
<circle cx="159.56" cy="793.39" r="1.8" fill="url(#gN)"/>
<use href="#ringG" transform="translate(154.31,791.74) rotate(-162.5) scale(0.95)"/>
<circle cx="148.11" cy="789.78" r="1.8" fill="url(#gN)"/>
<circle cx="181" cy="815" r="1.8" fill="url(#gN)"/>
<use href="#ringG" transform="translate(179.33,820.24) rotate(107.65) scale(0.95)"/>
<circle cx="177.36" cy="826.44" r="1.8" fill="url(#gN)"/>
<use href="#ringG" transform="translate(175.69,831.68) rotate(107.65) scale(0.95)"/>
<circle cx="173.72" cy="837.87" r="1.8" fill="url(#gN)"/>
<circle cx="235" cy="816" r="1.8" fill="url(#gN)"/>
<use href="#ringG" transform="translate(239.44,819.25) rotate(36.25) scale(0.95)"/>
<use href="#iconG" transform="translate(193.9,770) rotate(20) scale(0.84)"/>
<use href="#iconG" transform="translate(227.7,779.4) rotate(15) scale(0.84)"/>
<use href="#iconG" transform="translate(186.3,801.3) rotate(12) scale(0.84)"/>
<use href="#iconG" transform="translate(220.2,811.4) rotate(18) scale(0.84)"/>
<use href="#iconG" transform="translate(259,791.3) rotate(15) scale(0.84)"/>
<use href="#iconG" transform="translate(197,849) rotate(45) scale(0.84)"/>
<circle cx="222" cy="842.5" r="1.8" fill="url(#gN)"/>
<use href="#ringG" transform="translate(226.68,845.39) rotate(31.67) scale(0.95)"/>
<circle cx="232.21" cy="848.8" r="1.8" fill="url(#gN)"/>
<use href="#ringG" transform="translate(236.89,851.69) rotate(31.67) scale(0.95)"/>
<circle cx="242.43" cy="855.1" r="1.8" fill="url(#gN)"/>
<use href="#ringG" transform="translate(247.11,857.99) rotate(31.67) scale(0.95)"/>
<circle cx="252.64" cy="861.4" r="1.8" fill="url(#gN)"/>
<use href="#ringG" transform="translate(257.32,864.29) rotate(31.67) scale(0.95)"/>
<circle cx="262.85" cy="867.7" r="1.8" fill="url(#gN)"/>
<use href="#ringG" transform="translate(267.53,870.59) rotate(31.67) scale(0.95)"/>
<circle cx="273.06" cy="874" r="1.8" fill="url(#gN)"/>
<use href="#ringG" transform="translate(277.74,876.89) rotate(31.67) scale(0.95)"/>
<circle cx="283.28" cy="880.3" r="1.8" fill="url(#gN)"/>
<use href="#linkG" transform="translate(311.1,783.5) rotate(162.59)"/>
<use href="#linkG" transform="translate(334.8,796.8) rotate(74.77)"/>
<use href="#linkG" transform="translate(297.8,807.2) rotate(73.8)"/>
<use href="#linkG" transform="translate(321.5,820.5) rotate(166.04)"/>
<circle cx="287" cy="776" r="1.8" fill="url(#gN)"/>
<use href="#ringG" transform="translate(285.38,770.74) rotate(-107.1) scale(0.95)"/>
<circle cx="283.47" cy="764.53" r="1.8" fill="url(#gN)"/>
<circle cx="324" cy="764" r="1.8" fill="url(#gN)"/>
<use href="#ringG" transform="translate(320.11,760.11) rotate(-135) scale(0.95)"/>
<circle cx="318" cy="758" r="2" fill="url(#gO)"/>
<circle cx="355" cy="810" r="1.8" fill="url(#gN)"/>
<use href="#ringG" transform="translate(359.95,807.6) rotate(-25.91) scale(0.95)"/>
<circle cx="362" cy="806.6" r="2" fill="url(#gO)"/>
<circle cx="290" cy="830" r="1.8" fill="url(#gN)"/>
<use href="#ringG" transform="translate(284.84,831.91) rotate(159.65) scale(0.95)"/>
<circle cx="278.75" cy="834.17" r="1.8" fill="url(#gN)"/>
<use href="#ringG" transform="translate(273.59,836.09) rotate(159.65) scale(0.95)"/>
<circle cx="267.5" cy="838.35" r="1.8" fill="url(#gN)"/>
<circle cx="310" cy="840" r="1.8" fill="url(#gN)"/>
<use href="#ringG" transform="translate(312.21,845.04) rotate(66.27) scale(0.95)"/>
<circle cx="314.83" cy="850.99" r="1.8" fill="url(#gN)"/>
<use href="#ringG" transform="translate(317.04,856.02) rotate(66.27) scale(0.95)"/>
<circle cx="319.66" cy="861.97" r="1.8" fill="url(#gN)"/>
<use href="#ringG" transform="translate(321.87,867.01) rotate(66.27) scale(0.95)"/>
<use href="#iconG" transform="translate(329.6,777.7) rotate(15) scale(0.84)"/>
<use href="#iconG" transform="translate(292.6,789.3) rotate(10) scale(0.84)"/>
<use href="#iconG" transform="translate(340,815.9) rotate(20) scale(0.84)"/>
<use href="#iconG" transform="translate(303,825.1) rotate(15) scale(0.84)"/>
</svg>
</body></html>
